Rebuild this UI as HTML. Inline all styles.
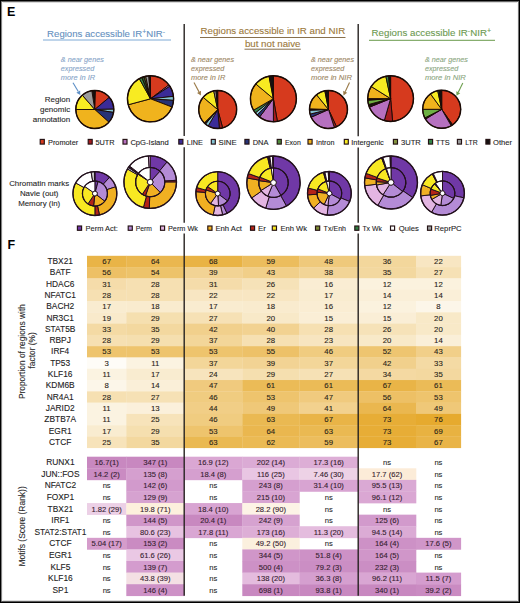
<!DOCTYPE html>
<html><head><meta charset="utf-8"><title>Figure</title>
<style>html,body{margin:0;padding:0;background:#fff;width:520px;height:603px;overflow:hidden;font-family:"Liberation Sans",sans-serif;}svg{display:block;}</style>
</head><body>
<svg width="520" height="603" viewBox="0 0 520 603" font-family="Liberation Sans, sans-serif">
<rect x="0" y="0" width="520" height="603" fill="#fff"/>
<text x="7.00" y="16.00" font-size="12.5" fill="#000" font-weight="bold">E</text>
<text x="7.60" y="248.80" font-size="12.5" fill="#000" font-weight="bold">F</text>
<text x="47.10" y="36.70" font-size="9" fill="#6590c0" textLength="118.00" lengthAdjust="spacingAndGlyphs" stroke="#6590c0" stroke-width="0.1">Regions accessible IR<tspan font-size="6.5" dy="-3.2">+</tspan><tspan dy="3.2">NIR</tspan><tspan font-size="6.5" dy="-3.2">-</tspan></text>
<line x1="43" y1="40.0" x2="171" y2="40.0" stroke="#7eaad6" stroke-width="1.0"/>
<text x="200.50" y="33.80" font-size="9" fill="#9c783a" textLength="144.70" lengthAdjust="spacingAndGlyphs" stroke="#9c783a" stroke-width="0.1">Regions accessible in IR and NIR</text>
<line x1="200" y1="37.5" x2="345.5" y2="37.5" stroke="#7a6038" stroke-width="0.9"/>
<text x="244.90" y="46.70" font-size="9" fill="#9c783a" textLength="55.60" lengthAdjust="spacingAndGlyphs" stroke="#9c783a" stroke-width="0.1">but not naive</text>
<line x1="244.5" y1="49.2" x2="300.8" y2="49.2" stroke="#7a6038" stroke-width="0.9"/>
<text x="371.60" y="36.40" font-size="9" fill="#6c9a50" textLength="119.50" lengthAdjust="spacingAndGlyphs" stroke="#6c9a50" stroke-width="0.1">Regions accessible IR<tspan font-size="6.5" dy="-3.2">-</tspan><tspan dy="3.2">NIR</tspan><tspan font-size="6.5" dy="-3.2">+</tspan></text>
<line x1="369" y1="40.3" x2="495" y2="40.3" stroke="#6a9a4c" stroke-width="1.0"/>
<text x="60.80" y="62.30" font-size="8.1" fill="#86a4c8" font-style="italic" textLength="43.00" lengthAdjust="spacingAndGlyphs" stroke="#86a4c8" stroke-width="0.1">&amp; near genes</text>
<text x="60.80" y="71.10" font-size="8.1" fill="#86a4c8" font-style="italic" textLength="33.40" lengthAdjust="spacingAndGlyphs" stroke="#86a4c8" stroke-width="0.1">expressed</text>
<text x="60.80" y="79.90" font-size="8.1" fill="#86a4c8" font-style="italic" textLength="34.30" lengthAdjust="spacingAndGlyphs" stroke="#86a4c8" stroke-width="0.1">more in IR</text>
<text x="191.00" y="62.30" font-size="8.1" fill="#9c8662" font-style="italic" textLength="43.00" lengthAdjust="spacingAndGlyphs" stroke="#9c8662" stroke-width="0.1">&amp; near genes</text>
<text x="191.00" y="71.10" font-size="8.1" fill="#9c8662" font-style="italic" textLength="33.40" lengthAdjust="spacingAndGlyphs" stroke="#9c8662" stroke-width="0.1">expressed</text>
<text x="191.00" y="79.90" font-size="8.1" fill="#9c8662" font-style="italic" textLength="34.30" lengthAdjust="spacingAndGlyphs" stroke="#9c8662" stroke-width="0.1">more in IR</text>
<text x="311.00" y="62.30" font-size="8.1" fill="#9c8662" font-style="italic" textLength="43.00" lengthAdjust="spacingAndGlyphs" stroke="#9c8662" stroke-width="0.1">&amp; near genes</text>
<text x="311.00" y="71.10" font-size="8.1" fill="#9c8662" font-style="italic" textLength="33.40" lengthAdjust="spacingAndGlyphs" stroke="#9c8662" stroke-width="0.1">expressed</text>
<text x="311.00" y="79.90" font-size="8.1" fill="#9c8662" font-style="italic" textLength="41.00" lengthAdjust="spacingAndGlyphs" stroke="#9c8662" stroke-width="0.1">more in NIR</text>
<text x="424.90" y="62.30" font-size="8.1" fill="#8aa67e" font-style="italic" textLength="43.00" lengthAdjust="spacingAndGlyphs" stroke="#8aa67e" stroke-width="0.1">&amp; near genes</text>
<text x="424.90" y="71.10" font-size="8.1" fill="#8aa67e" font-style="italic" textLength="33.40" lengthAdjust="spacingAndGlyphs" stroke="#8aa67e" stroke-width="0.1">expressed</text>
<text x="424.90" y="79.90" font-size="8.1" fill="#8aa67e" font-style="italic" textLength="41.00" lengthAdjust="spacingAndGlyphs" stroke="#8aa67e" stroke-width="0.1">more in NIR</text>
<line x1="73.00" y1="82.70" x2="78.26" y2="91.56" stroke="#5d8fc6" stroke-width="1.1"/><path d="M80.30,95.00 L76.37,92.68 L80.15,90.44 Z" fill="#5d8fc6"/>
<line x1="194.00" y1="82.60" x2="199.00" y2="91.88" stroke="#9a7a48" stroke-width="1.1"/><path d="M200.90,95.40 L197.07,92.92 L200.94,90.84 Z" fill="#9a7a48"/>
<line x1="349.50" y1="82.60" x2="345.20" y2="91.78" stroke="#9a7a48" stroke-width="1.1"/><path d="M343.50,95.40 L343.21,90.84 L347.19,92.71 Z" fill="#9a7a48"/>
<line x1="462.80" y1="83.10" x2="458.28" y2="92.22" stroke="#6fa050" stroke-width="1.1"/><path d="M456.50,95.80 L456.31,91.24 L460.25,93.19 Z" fill="#6fa050"/>
<text x="70.20" y="102.20" font-size="8.0" fill="#262626" text-anchor="end" stroke="#262626" stroke-width="0.1">Region</text>
<text x="70.20" y="112.00" font-size="8.0" fill="#262626" text-anchor="end" stroke="#262626" stroke-width="0.1">genomic</text>
<text x="70.20" y="121.80" font-size="8.0" fill="#262626" text-anchor="end" stroke="#262626" stroke-width="0.1">annotation</text>
<text x="39.20" y="185.90" font-size="7.9" fill="#262626" text-anchor="middle" stroke="#262626" stroke-width="0.1">Chromatin marks</text>
<text x="39.20" y="195.90" font-size="7.9" fill="#262626" text-anchor="middle" stroke="#262626" stroke-width="0.1">Navie (out)</text>
<text x="39.20" y="205.90" font-size="7.9" fill="#262626" text-anchor="middle" stroke="#262626" stroke-width="0.1">Memory (in)</text>
<path d="M94.80,109.50 L91.83,90.73 A19.00,19.00 0 0 1 95.46,90.51 Z" fill="#151010" stroke="#1a0a05" stroke-width="0.95" stroke-linejoin="round"/>
<path d="M94.80,109.50 L95.46,90.51 A19.00,19.00 0 0 1 109.35,97.29 Z" fill="#d63a1e" stroke="#1a0a05" stroke-width="0.95" stroke-linejoin="round"/>
<path d="M94.80,109.50 L109.35,97.29 A19.00,19.00 0 0 1 113.80,109.17 Z" fill="#3b2b97" stroke="#1a0a05" stroke-width="0.95" stroke-linejoin="round"/>
<path d="M94.80,109.50 L113.80,109.17 A19.00,19.00 0 0 1 113.57,112.47 Z" fill="#84c3d3" stroke="#1a0a05" stroke-width="0.95" stroke-linejoin="round"/>
<path d="M94.80,109.50 L113.57,112.47 A19.00,19.00 0 0 1 108.92,122.21 Z" fill="#263376" stroke="#1a0a05" stroke-width="0.95" stroke-linejoin="round"/>
<path d="M94.80,109.50 L108.92,122.21 A19.00,19.00 0 0 1 75.80,109.50 Z" fill="#f0b31d" stroke="#1a0a05" stroke-width="0.95" stroke-linejoin="round"/>
<path d="M94.80,109.50 L75.80,109.50 A19.00,19.00 0 0 1 82.33,95.16 Z" fill="#f8eb22" stroke="#1a0a05" stroke-width="0.95" stroke-linejoin="round"/>
<path d="M94.80,109.50 L82.33,95.16 A19.00,19.00 0 0 1 91.83,90.73 Z" fill="#9b9b9b" stroke="#1a0a05" stroke-width="0.95" stroke-linejoin="round"/>
<circle cx="94.8" cy="109.5" r="19.0" fill="none" stroke="#1a0a05" stroke-width="1.4"/>
<path d="M150.50,98.80 L150.50,75.70 A23.10,23.10 0 0 1 168.95,84.90 Z" fill="#d63a1e" stroke="#1a0a05" stroke-width="0.95" stroke-linejoin="round"/>
<path d="M150.50,98.80 L168.95,84.90 A23.10,23.10 0 0 1 169.87,86.22 Z" fill="#b670bf" stroke="#1a0a05" stroke-width="0.95" stroke-linejoin="round"/>
<path d="M150.50,98.80 L169.87,86.22 A23.10,23.10 0 0 1 173.47,96.39 Z" fill="#3b2b97" stroke="#1a0a05" stroke-width="0.95" stroke-linejoin="round"/>
<path d="M150.50,98.80 L173.47,96.39 A23.10,23.10 0 0 1 173.54,100.41 Z" fill="#84c3d3" stroke="#1a0a05" stroke-width="0.95" stroke-linejoin="round"/>
<path d="M150.50,98.80 L173.54,100.41 A23.10,23.10 0 0 1 172.07,107.08 Z" fill="#263376" stroke="#1a0a05" stroke-width="0.95" stroke-linejoin="round"/>
<path d="M150.50,98.80 L172.07,107.08 A23.10,23.10 0 0 1 128.19,104.78 Z" fill="#f0b31d" stroke="#1a0a05" stroke-width="0.95" stroke-linejoin="round"/>
<path d="M150.50,98.80 L128.19,104.78 A23.10,23.10 0 0 1 139.30,78.60 Z" fill="#f8eb22" stroke="#1a0a05" stroke-width="0.95" stroke-linejoin="round"/>
<path d="M150.50,98.80 L139.30,78.60 A23.10,23.10 0 0 1 141.85,77.38 Z" fill="#348648" stroke="#1a0a05" stroke-width="0.95" stroke-linejoin="round"/>
<path d="M150.50,98.80 L141.85,77.38 A23.10,23.10 0 0 1 144.13,76.59 Z" fill="#2a5a30" stroke="#1a0a05" stroke-width="0.95" stroke-linejoin="round"/>
<path d="M150.50,98.80 L144.13,76.59 A23.10,23.10 0 0 1 145.70,76.20 Z" fill="#84943f" stroke="#1a0a05" stroke-width="0.95" stroke-linejoin="round"/>
<path d="M150.50,98.80 L145.70,76.20 A23.10,23.10 0 0 1 148.89,75.76 Z" fill="#9b9b9b" stroke="#1a0a05" stroke-width="0.95" stroke-linejoin="round"/>
<path d="M150.50,98.80 L148.89,75.76 A23.10,23.10 0 0 1 150.50,75.70 Z" fill="#151010" stroke="#1a0a05" stroke-width="0.95" stroke-linejoin="round"/>
<circle cx="150.5" cy="98.8" r="23.1" fill="none" stroke="#1a0a05" stroke-width="1.4"/>
<path d="M217.70,109.50 L217.70,90.50 A19.00,19.00 0 0 1 222.62,127.85 Z" fill="#d63a1e" stroke="#1a0a05" stroke-width="0.95" stroke-linejoin="round"/>
<path d="M217.70,109.50 L222.62,127.85 A19.00,19.00 0 0 1 219.36,128.43 Z" fill="#a51c1e" stroke="#1a0a05" stroke-width="0.95" stroke-linejoin="round"/>
<path d="M217.70,109.50 L219.36,128.43 A19.00,19.00 0 0 1 208.20,125.95 Z" fill="#3b2b97" stroke="#1a0a05" stroke-width="0.95" stroke-linejoin="round"/>
<path d="M217.70,109.50 L208.20,125.95 A19.00,19.00 0 0 1 205.49,124.05 Z" fill="#84c3d3" stroke="#1a0a05" stroke-width="0.95" stroke-linejoin="round"/>
<path d="M217.70,109.50 L205.49,124.05 A19.00,19.00 0 0 1 204.26,122.94 Z" fill="#151010" stroke="#1a0a05" stroke-width="0.95" stroke-linejoin="round"/>
<path d="M217.70,109.50 L204.26,122.94 A19.00,19.00 0 0 1 203.15,97.29 Z" fill="#f0b31d" stroke="#1a0a05" stroke-width="0.95" stroke-linejoin="round"/>
<path d="M217.70,109.50 L203.15,97.29 A19.00,19.00 0 0 1 213.75,90.92 Z" fill="#f8eb22" stroke="#1a0a05" stroke-width="0.95" stroke-linejoin="round"/>
<path d="M217.70,109.50 L213.75,90.92 A19.00,19.00 0 0 1 216.04,90.57 Z" fill="#9b9b9b" stroke="#1a0a05" stroke-width="0.95" stroke-linejoin="round"/>
<path d="M217.70,109.50 L216.04,90.57 A19.00,19.00 0 0 1 217.70,90.50 Z" fill="#151010" stroke="#1a0a05" stroke-width="0.95" stroke-linejoin="round"/>
<circle cx="217.7" cy="109.5" r="19.0" fill="none" stroke="#1a0a05" stroke-width="1.4"/>
<path d="M273.40,98.70 L273.40,75.70 A23.00,23.00 0 0 1 277.39,121.35 Z" fill="#d63a1e" stroke="#1a0a05" stroke-width="0.95" stroke-linejoin="round"/>
<path d="M273.40,98.70 L277.39,121.35 A23.00,23.00 0 0 1 273.40,121.70 Z" fill="#a51c1e" stroke="#1a0a05" stroke-width="0.95" stroke-linejoin="round"/>
<path d="M273.40,98.70 L273.40,121.70 A23.00,23.00 0 0 1 259.56,117.07 Z" fill="#b670bf" stroke="#1a0a05" stroke-width="0.95" stroke-linejoin="round"/>
<path d="M273.40,98.70 L259.56,117.07 A23.00,23.00 0 0 1 257.14,114.96 Z" fill="#263376" stroke="#1a0a05" stroke-width="0.95" stroke-linejoin="round"/>
<path d="M273.40,98.70 L257.14,114.96 A23.00,23.00 0 0 1 255.28,112.86 Z" fill="#84c3d3" stroke="#1a0a05" stroke-width="0.95" stroke-linejoin="round"/>
<path d="M273.40,98.70 L255.28,112.86 A23.00,23.00 0 0 1 253.48,110.20 Z" fill="#348648" stroke="#1a0a05" stroke-width="0.95" stroke-linejoin="round"/>
<path d="M273.40,98.70 L253.48,110.20 A23.00,23.00 0 0 1 255.78,83.92 Z" fill="#f0b31d" stroke="#1a0a05" stroke-width="0.95" stroke-linejoin="round"/>
<path d="M273.40,98.70 L255.78,83.92 A23.00,23.00 0 0 1 269.01,76.12 Z" fill="#f8eb22" stroke="#1a0a05" stroke-width="0.95" stroke-linejoin="round"/>
<path d="M273.40,98.70 L269.01,76.12 A23.00,23.00 0 0 1 273.40,75.70 Z" fill="#151010" stroke="#1a0a05" stroke-width="0.95" stroke-linejoin="round"/>
<circle cx="273.4" cy="98.7" r="23.0" fill="none" stroke="#1a0a05" stroke-width="1.4"/>
<path d="M328.50,109.50 L328.50,90.50 A19.00,19.00 0 0 1 336.53,126.72 Z" fill="#d63a1e" stroke="#1a0a05" stroke-width="0.95" stroke-linejoin="round"/>
<path d="M328.50,109.50 L336.53,126.72 A19.00,19.00 0 0 1 334.37,127.57 Z" fill="#a51c1e" stroke="#1a0a05" stroke-width="0.95" stroke-linejoin="round"/>
<path d="M328.50,109.50 L334.37,127.57 A19.00,19.00 0 0 1 311.14,117.23 Z" fill="#b670bf" stroke="#1a0a05" stroke-width="0.95" stroke-linejoin="round"/>
<path d="M328.50,109.50 L311.14,117.23 A19.00,19.00 0 0 1 310.06,114.10 Z" fill="#263376" stroke="#1a0a05" stroke-width="0.95" stroke-linejoin="round"/>
<path d="M328.50,109.50 L310.06,114.10 A19.00,19.00 0 0 1 309.51,110.16 Z" fill="#84c3d3" stroke="#1a0a05" stroke-width="0.95" stroke-linejoin="round"/>
<path d="M328.50,109.50 L309.51,110.16 A19.00,19.00 0 0 1 309.51,108.84 Z" fill="#151010" stroke="#1a0a05" stroke-width="0.95" stroke-linejoin="round"/>
<path d="M328.50,109.50 L309.51,108.84 A19.00,19.00 0 0 1 316.54,94.73 Z" fill="#f0b31d" stroke="#1a0a05" stroke-width="0.95" stroke-linejoin="round"/>
<path d="M328.50,109.50 L316.54,94.73 A19.00,19.00 0 0 1 324.87,90.85 Z" fill="#f8eb22" stroke="#1a0a05" stroke-width="0.95" stroke-linejoin="round"/>
<path d="M328.50,109.50 L324.87,90.85 A19.00,19.00 0 0 1 328.50,90.50 Z" fill="#151010" stroke="#1a0a05" stroke-width="0.95" stroke-linejoin="round"/>
<circle cx="328.5" cy="109.5" r="19.0" fill="none" stroke="#1a0a05" stroke-width="1.4"/>
<path d="M390.60,98.60 L390.60,75.70 A22.90,22.90 0 0 1 392.60,121.41 Z" fill="#d63a1e" stroke="#1a0a05" stroke-width="0.95" stroke-linejoin="round"/>
<path d="M390.60,98.60 L392.60,121.41 A22.90,22.90 0 0 1 384.29,120.61 Z" fill="#a51c1e" stroke="#1a0a05" stroke-width="0.95" stroke-linejoin="round"/>
<path d="M390.60,98.60 L384.29,120.61 A22.90,22.90 0 0 1 369.37,107.18 Z" fill="#b670bf" stroke="#1a0a05" stroke-width="0.95" stroke-linejoin="round"/>
<path d="M390.60,98.60 L369.37,107.18 A22.90,22.90 0 0 1 368.48,104.53 Z" fill="#151010" stroke="#1a0a05" stroke-width="0.95" stroke-linejoin="round"/>
<path d="M390.60,98.60 L368.48,104.53 A22.90,22.90 0 0 1 367.76,100.20 Z" fill="#6db143" stroke="#1a0a05" stroke-width="0.95" stroke-linejoin="round"/>
<path d="M390.60,98.60 L367.76,100.20 A22.90,22.90 0 0 1 367.70,98.60 Z" fill="#151010" stroke="#1a0a05" stroke-width="0.95" stroke-linejoin="round"/>
<path d="M390.60,98.60 L367.70,98.60 A22.90,22.90 0 0 1 371.18,86.46 Z" fill="#f0b31d" stroke="#1a0a05" stroke-width="0.95" stroke-linejoin="round"/>
<path d="M390.60,98.60 L371.18,86.46 A22.90,22.90 0 0 1 385.84,76.20 Z" fill="#f8eb22" stroke="#1a0a05" stroke-width="0.95" stroke-linejoin="round"/>
<path d="M390.60,98.60 L385.84,76.20 A22.90,22.90 0 0 1 388.60,75.79 Z" fill="#348648" stroke="#1a0a05" stroke-width="0.95" stroke-linejoin="round"/>
<path d="M390.60,98.60 L388.60,75.79 A22.90,22.90 0 0 1 390.60,75.70 Z" fill="#151010" stroke="#1a0a05" stroke-width="0.95" stroke-linejoin="round"/>
<circle cx="390.6" cy="98.6" r="22.9" fill="none" stroke="#1a0a05" stroke-width="1.4"/>
<path d="M441.70,109.30 L441.70,90.30 A19.00,19.00 0 0 1 452.60,124.86 Z" fill="#d63a1e" stroke="#1a0a05" stroke-width="0.95" stroke-linejoin="round"/>
<path d="M441.70,109.30 L452.60,124.86 A19.00,19.00 0 0 1 451.20,125.75 Z" fill="#151010" stroke="#1a0a05" stroke-width="0.95" stroke-linejoin="round"/>
<path d="M441.70,109.30 L451.20,125.75 A19.00,19.00 0 0 1 425.41,119.09 Z" fill="#b670bf" stroke="#1a0a05" stroke-width="0.95" stroke-linejoin="round"/>
<path d="M441.70,109.30 L425.41,119.09 A19.00,19.00 0 0 1 424.77,117.93 Z" fill="#151010" stroke="#1a0a05" stroke-width="0.95" stroke-linejoin="round"/>
<path d="M441.70,109.30 L424.77,117.93 A19.00,19.00 0 0 1 422.70,109.30 Z" fill="#6db143" stroke="#1a0a05" stroke-width="0.95" stroke-linejoin="round"/>
<path d="M441.70,109.30 L422.70,109.30 A19.00,19.00 0 0 1 430.53,93.93 Z" fill="#f0b31d" stroke="#1a0a05" stroke-width="0.95" stroke-linejoin="round"/>
<path d="M441.70,109.30 L430.53,93.93 A19.00,19.00 0 0 1 437.75,90.72 Z" fill="#f8eb22" stroke="#1a0a05" stroke-width="0.95" stroke-linejoin="round"/>
<path d="M441.70,109.30 L437.75,90.72 A19.00,19.00 0 0 1 439.06,90.48 Z" fill="#348648" stroke="#1a0a05" stroke-width="0.95" stroke-linejoin="round"/>
<path d="M441.70,109.30 L439.06,90.48 A19.00,19.00 0 0 1 441.70,90.30 Z" fill="#151010" stroke="#1a0a05" stroke-width="0.95" stroke-linejoin="round"/>
<circle cx="441.7" cy="109.3" r="19.0" fill="none" stroke="#1a0a05" stroke-width="1.4"/>
<path d="M94.90,181.05 L94.90,171.60 A21.95,21.95 0 0 1 109.59,177.24 L103.26,184.26 A12.50,12.50 0 0 0 94.90,181.05 Z" fill="#7038a6" stroke="#22101c" stroke-width="1.0" stroke-linejoin="round"/>
<path d="M103.26,184.26 L109.59,177.24 A21.95,21.95 0 0 1 115.78,186.77 L106.79,189.69 A12.50,12.50 0 0 0 103.26,184.26 Z" fill="#b48bd6" stroke="#22101c" stroke-width="1.0" stroke-linejoin="round"/>
<path d="M106.79,189.69 L115.78,186.77 A21.95,21.95 0 0 1 99.46,215.02 L97.50,205.78 A12.50,12.50 0 0 0 106.79,189.69 Z" fill="#f0b022" stroke="#22101c" stroke-width="1.0" stroke-linejoin="round"/>
<path d="M97.50,205.78 L99.46,215.02 A21.95,21.95 0 0 1 94.90,215.50 L94.90,206.05 A12.50,12.50 0 0 0 97.50,205.78 Z" fill="#b42418" stroke="#22101c" stroke-width="1.0" stroke-linejoin="round"/>
<path d="M94.90,206.05 L94.90,215.50 A21.95,21.95 0 0 1 75.70,182.91 L83.97,187.49 A12.50,12.50 0 0 0 94.90,206.05 Z" fill="#f8e822" stroke="#22101c" stroke-width="1.0" stroke-linejoin="round"/>
<path d="M83.97,187.49 L75.70,182.91 A21.95,21.95 0 0 1 91.09,171.93 L92.73,181.24 A12.50,12.50 0 0 0 83.97,187.49 Z" fill="#ffffff" stroke="#22101c" stroke-width="1.0" stroke-linejoin="round"/>
<path d="M92.73,181.24 L91.09,171.93 A21.95,21.95 0 0 1 94.52,171.60 L94.68,181.05 A12.50,12.50 0 0 0 92.73,181.24 Z" fill="#c4c4c4" stroke="#22101c" stroke-width="1.0" stroke-linejoin="round"/>
<path d="M94.68,181.05 L94.52,171.60 A21.95,21.95 0 0 1 94.90,171.60 L94.90,181.05 A12.50,12.50 0 0 0 94.68,181.05 Z" fill="#7038a6" stroke="#22101c" stroke-width="1.0" stroke-linejoin="round"/>
<path d="M94.90,191.15 L94.90,181.05 A12.50,12.50 0 0 1 98.14,181.48 L95.52,191.23 A2.40,2.40 0 0 0 94.90,191.15 Z" fill="#7038a6" stroke="#22101c" stroke-width="1.0" stroke-linejoin="round"/>
<path d="M95.52,191.23 L98.14,181.48 A12.50,12.50 0 0 1 104.75,201.25 L96.79,195.03 A2.40,2.40 0 0 0 95.52,191.23 Z" fill="#b48bd6" stroke="#22101c" stroke-width="1.0" stroke-linejoin="round"/>
<path d="M96.79,195.03 L104.75,201.25 A12.50,12.50 0 0 1 93.59,205.98 L94.65,195.94 A2.40,2.40 0 0 0 96.79,195.03 Z" fill="#f0b022" stroke="#22101c" stroke-width="1.0" stroke-linejoin="round"/>
<path d="M94.65,195.94 L93.59,205.98 A12.50,12.50 0 0 1 87.91,203.91 L93.56,195.54 A2.40,2.40 0 0 0 94.65,195.94 Z" fill="#b42418" stroke="#22101c" stroke-width="1.0" stroke-linejoin="round"/>
<path d="M93.56,195.54 L87.91,203.91 A12.50,12.50 0 0 1 84.66,186.38 L92.93,192.17 A2.40,2.40 0 0 0 93.56,195.54 Z" fill="#f8e822" stroke="#22101c" stroke-width="1.0" stroke-linejoin="round"/>
<path d="M92.93,192.17 L84.66,186.38 A12.50,12.50 0 0 1 94.90,181.05 L94.90,191.15 A2.40,2.40 0 0 0 92.93,192.17 Z" fill="#ffffff" stroke="#22101c" stroke-width="1.0" stroke-linejoin="round"/>
<circle cx="94.9" cy="193.55" r="21.95" fill="none" stroke="#22101c" stroke-width="1.35"/>
<circle cx="94.9" cy="193.55" r="12.5" fill="none" stroke="#22101c" stroke-width="1.15"/>
<circle cx="94.9" cy="193.55" r="2.4" fill="#fff" stroke="#22101c" stroke-width="0.9"/>
<path d="M150.20,167.50 L150.20,155.80 A26.30,26.30 0 0 1 167.11,161.95 L159.58,170.92 A14.60,14.60 0 0 0 150.20,167.50 Z" fill="#7038a6" stroke="#22101c" stroke-width="1.0" stroke-linejoin="round"/>
<path d="M159.58,170.92 L167.11,161.95 A26.30,26.30 0 0 1 176.44,180.27 L164.76,181.08 A14.60,14.60 0 0 0 159.58,170.92 Z" fill="#b48bd6" stroke="#22101c" stroke-width="1.0" stroke-linejoin="round"/>
<path d="M164.76,181.08 L176.44,180.27 A26.30,26.30 0 0 1 176.50,182.10 L164.80,182.10 A14.60,14.60 0 0 0 164.76,181.08 Z" fill="#b42418" stroke="#22101c" stroke-width="1.0" stroke-linejoin="round"/>
<path d="M164.80,182.10 L176.50,182.10 A26.30,26.30 0 0 1 149.28,208.38 L149.69,196.69 A14.60,14.60 0 0 0 164.80,182.10 Z" fill="#f0b022" stroke="#22101c" stroke-width="1.0" stroke-linejoin="round"/>
<path d="M149.69,196.69 L149.28,208.38 A26.30,26.30 0 0 1 143.39,207.50 L146.42,196.20 A14.60,14.60 0 0 0 149.69,196.69 Z" fill="#b42418" stroke="#22101c" stroke-width="1.0" stroke-linejoin="round"/>
<path d="M146.42,196.20 L143.39,207.50 A26.30,26.30 0 0 1 127.42,168.95 L137.56,174.80 A14.60,14.60 0 0 0 146.42,196.20 Z" fill="#f8e822" stroke="#22101c" stroke-width="1.0" stroke-linejoin="round"/>
<path d="M137.56,174.80 L127.42,168.95 A26.30,26.30 0 0 1 128.40,167.39 L138.10,173.94 A14.60,14.60 0 0 0 137.56,174.80 Z" fill="#c9cfe0" stroke="#22101c" stroke-width="1.0" stroke-linejoin="round"/>
<path d="M138.10,173.94 L128.40,167.39 A26.30,26.30 0 0 1 129.48,165.91 L138.70,173.11 A14.60,14.60 0 0 0 138.10,173.94 Z" fill="#2a1420" stroke="#22101c" stroke-width="1.0" stroke-linejoin="round"/>
<path d="M138.70,173.11 L129.48,165.91 A26.30,26.30 0 0 1 148.37,155.86 L149.18,167.54 A14.60,14.60 0 0 0 138.70,173.11 Z" fill="#ffffff" stroke="#22101c" stroke-width="1.0" stroke-linejoin="round"/>
<path d="M149.18,167.54 L148.37,155.86 A26.30,26.30 0 0 1 150.20,155.80 L150.20,167.50 A14.60,14.60 0 0 0 149.18,167.54 Z" fill="#e3b5e2" stroke="#22101c" stroke-width="1.0" stroke-linejoin="round"/>
<path d="M150.20,179.30 L150.20,167.50 A14.60,14.60 0 0 1 159.97,171.25 L152.07,180.02 A2.80,2.80 0 0 0 150.20,179.30 Z" fill="#7038a6" stroke="#22101c" stroke-width="1.0" stroke-linejoin="round"/>
<path d="M152.07,180.02 L159.97,171.25 A14.60,14.60 0 0 1 160.34,192.60 L152.15,184.11 A2.80,2.80 0 0 0 152.07,180.02 Z" fill="#b48bd6" stroke="#22101c" stroke-width="1.0" stroke-linejoin="round"/>
<path d="M152.15,184.11 L160.34,192.60 A14.60,14.60 0 0 1 145.45,195.90 L149.29,184.75 A2.80,2.80 0 0 0 152.15,184.11 Z" fill="#f0b022" stroke="#22101c" stroke-width="1.0" stroke-linejoin="round"/>
<path d="M149.29,184.75 L145.45,195.90 A14.60,14.60 0 0 1 142.25,194.34 L148.68,184.45 A2.80,2.80 0 0 0 149.29,184.75 Z" fill="#b42418" stroke="#22101c" stroke-width="1.0" stroke-linejoin="round"/>
<path d="M148.68,184.45 L142.25,194.34 A14.60,14.60 0 0 1 137.96,174.15 L147.85,180.58 A2.80,2.80 0 0 0 148.68,184.45 Z" fill="#f8e822" stroke="#22101c" stroke-width="1.0" stroke-linejoin="round"/>
<path d="M147.85,180.58 L137.96,174.15 A14.60,14.60 0 0 1 138.54,173.31 L147.96,180.41 A2.80,2.80 0 0 0 147.85,180.58 Z" fill="#2a1420" stroke="#22101c" stroke-width="1.0" stroke-linejoin="round"/>
<path d="M147.96,180.41 L138.54,173.31 A14.60,14.60 0 0 1 150.20,167.50 L150.20,179.30 A2.80,2.80 0 0 0 147.96,180.41 Z" fill="#ffffff" stroke="#22101c" stroke-width="1.0" stroke-linejoin="round"/>
<circle cx="150.2" cy="182.1" r="26.3" fill="none" stroke="#22101c" stroke-width="1.35"/>
<circle cx="150.2" cy="182.1" r="14.6" fill="none" stroke="#22101c" stroke-width="1.15"/>
<circle cx="150.2" cy="182.1" r="2.8" fill="#fff" stroke="#22101c" stroke-width="0.9"/>
<path d="M217.70,181.25 L217.70,171.65 A21.90,21.90 0 0 1 226.96,213.40 L222.90,204.70 A12.30,12.30 0 0 0 217.70,181.25 Z" fill="#7038a6" stroke="#22101c" stroke-width="1.0" stroke-linejoin="round"/>
<path d="M222.90,204.70 L226.96,213.40 A21.90,21.90 0 0 1 222.63,214.89 L220.47,205.53 A12.30,12.30 0 0 0 222.90,204.70 Z" fill="#b48bd6" stroke="#22101c" stroke-width="1.0" stroke-linejoin="round"/>
<path d="M220.47,205.53 L222.63,214.89 A21.90,21.90 0 0 1 213.15,214.97 L215.14,205.58 A12.30,12.30 0 0 0 220.47,205.53 Z" fill="#e3b5e2" stroke="#22101c" stroke-width="1.0" stroke-linejoin="round"/>
<path d="M215.14,205.58 L213.15,214.97 A21.90,21.90 0 0 1 195.88,191.64 L205.45,192.48 A12.30,12.30 0 0 0 215.14,205.58 Z" fill="#f0b022" stroke="#22101c" stroke-width="1.0" stroke-linejoin="round"/>
<path d="M205.45,192.48 L195.88,191.64 A21.90,21.90 0 0 1 196.65,187.51 L205.88,190.16 A12.30,12.30 0 0 0 205.45,192.48 Z" fill="#b42418" stroke="#22101c" stroke-width="1.0" stroke-linejoin="round"/>
<path d="M205.88,190.16 L196.65,187.51 A21.90,21.90 0 0 1 217.70,171.65 L217.70,181.25 A12.30,12.30 0 0 0 205.88,190.16 Z" fill="#f8e822" stroke="#22101c" stroke-width="1.0" stroke-linejoin="round"/>
<path d="M217.70,191.15 L217.70,181.25 A12.30,12.30 0 0 1 227.52,200.95 L219.62,194.99 A2.40,2.40 0 0 0 217.70,191.15 Z" fill="#7038a6" stroke="#22101c" stroke-width="1.0" stroke-linejoin="round"/>
<path d="M219.62,194.99 L227.52,200.95 A12.30,12.30 0 0 1 218.56,205.82 L217.87,195.94 A2.40,2.40 0 0 0 219.62,194.99 Z" fill="#b48bd6" stroke="#22101c" stroke-width="1.0" stroke-linejoin="round"/>
<path d="M217.87,195.94 L218.56,205.82 A12.30,12.30 0 0 1 210.47,203.50 L216.29,195.49 A2.40,2.40 0 0 0 217.87,195.94 Z" fill="#e3b5e2" stroke="#22101c" stroke-width="1.0" stroke-linejoin="round"/>
<path d="M216.29,195.49 L210.47,203.50 A12.30,12.30 0 0 1 205.94,189.95 L215.40,192.85 A2.40,2.40 0 0 0 216.29,195.49 Z" fill="#f0b022" stroke="#22101c" stroke-width="1.0" stroke-linejoin="round"/>
<path d="M215.40,192.85 L205.94,189.95 A12.30,12.30 0 0 1 207.62,186.50 L215.73,192.17 A2.40,2.40 0 0 0 215.40,192.85 Z" fill="#b42418" stroke="#22101c" stroke-width="1.0" stroke-linejoin="round"/>
<path d="M215.73,192.17 L207.62,186.50 A12.30,12.30 0 0 1 217.70,181.25 L217.70,191.15 A2.40,2.40 0 0 0 215.73,192.17 Z" fill="#f8e822" stroke="#22101c" stroke-width="1.0" stroke-linejoin="round"/>
<circle cx="217.7" cy="193.55" r="21.9" fill="none" stroke="#22101c" stroke-width="1.35"/>
<circle cx="217.7" cy="193.55" r="12.3" fill="none" stroke="#22101c" stroke-width="1.15"/>
<circle cx="217.7" cy="193.55" r="2.4" fill="#fff" stroke="#22101c" stroke-width="0.9"/>
<path d="M273.50,167.95 L273.50,155.95 A26.70,26.70 0 0 1 286.44,206.00 L280.63,195.51 A14.70,14.70 0 0 0 273.50,167.95 Z" fill="#7038a6" stroke="#22101c" stroke-width="1.0" stroke-linejoin="round"/>
<path d="M280.63,195.51 L286.44,206.00 A26.70,26.70 0 0 1 265.69,208.18 L269.20,196.71 A14.70,14.70 0 0 0 280.63,195.51 Z" fill="#b48bd6" stroke="#22101c" stroke-width="1.0" stroke-linejoin="round"/>
<path d="M269.20,196.71 L265.69,208.18 A26.70,26.70 0 0 1 251.63,197.96 L261.46,191.08 A14.70,14.70 0 0 0 269.20,196.71 Z" fill="#e3b5e2" stroke="#22101c" stroke-width="1.0" stroke-linejoin="round"/>
<path d="M261.46,191.08 L251.63,197.96 A26.70,26.70 0 0 1 247.21,178.01 L259.02,180.10 A14.70,14.70 0 0 0 261.46,191.08 Z" fill="#f0b022" stroke="#22101c" stroke-width="1.0" stroke-linejoin="round"/>
<path d="M259.02,180.10 L247.21,178.01 A26.70,26.70 0 0 1 248.41,173.52 L259.69,177.62 A14.70,14.70 0 0 0 259.02,180.10 Z" fill="#b42418" stroke="#22101c" stroke-width="1.0" stroke-linejoin="round"/>
<path d="M259.69,177.62 L248.41,173.52 A26.70,26.70 0 0 1 267.49,156.63 L270.19,168.33 A14.70,14.70 0 0 0 259.69,177.62 Z" fill="#f8e822" stroke="#22101c" stroke-width="1.0" stroke-linejoin="round"/>
<path d="M270.19,168.33 L267.49,156.63 A26.70,26.70 0 0 1 269.78,156.21 L271.45,168.09 A14.70,14.70 0 0 0 270.19,168.33 Z" fill="#2a1420" stroke="#22101c" stroke-width="1.0" stroke-linejoin="round"/>
<path d="M271.45,168.09 L269.78,156.21 A26.70,26.70 0 0 1 272.57,155.97 L272.99,167.96 A14.70,14.70 0 0 0 271.45,168.09 Z" fill="#ffffff" stroke="#22101c" stroke-width="1.0" stroke-linejoin="round"/>
<path d="M272.99,167.96 L272.57,155.97 A26.70,26.70 0 0 1 273.50,155.95 L273.50,167.95 A14.70,14.70 0 0 0 272.99,167.96 Z" fill="#2a1420" stroke="#22101c" stroke-width="1.0" stroke-linejoin="round"/>
<path d="M273.50,179.85 L273.50,167.95 A14.70,14.70 0 0 1 280.85,195.38 L274.90,185.07 A2.80,2.80 0 0 0 273.50,179.85 Z" fill="#7038a6" stroke="#22101c" stroke-width="1.0" stroke-linejoin="round"/>
<path d="M274.90,185.07 L280.85,195.38 A14.70,14.70 0 0 1 267.76,196.18 L272.41,185.23 A2.80,2.80 0 0 0 274.90,185.07 Z" fill="#b48bd6" stroke="#22101c" stroke-width="1.0" stroke-linejoin="round"/>
<path d="M272.41,185.23 L267.76,196.18 A14.70,14.70 0 0 1 261.03,190.44 L271.13,184.13 A2.80,2.80 0 0 0 272.41,185.23 Z" fill="#e3b5e2" stroke="#22101c" stroke-width="1.0" stroke-linejoin="round"/>
<path d="M271.13,184.13 L261.03,190.44 A14.70,14.70 0 0 1 258.94,180.60 L270.73,182.26 A2.80,2.80 0 0 0 271.13,184.13 Z" fill="#f0b022" stroke="#22101c" stroke-width="1.0" stroke-linejoin="round"/>
<path d="M270.73,182.26 L258.94,180.60 A14.70,14.70 0 0 1 259.87,177.14 L270.90,181.60 A2.80,2.80 0 0 0 270.73,182.26 Z" fill="#b42418" stroke="#22101c" stroke-width="1.0" stroke-linejoin="round"/>
<path d="M270.90,181.60 L259.87,177.14 A14.70,14.70 0 0 1 271.20,168.13 L273.06,179.88 A2.80,2.80 0 0 0 270.90,181.60 Z" fill="#f8e822" stroke="#22101c" stroke-width="1.0" stroke-linejoin="round"/>
<path d="M273.06,179.88 L271.20,168.13 A14.70,14.70 0 0 1 273.50,167.95 L273.50,179.85 A2.80,2.80 0 0 0 273.06,179.88 Z" fill="#ffffff" stroke="#22101c" stroke-width="1.0" stroke-linejoin="round"/>
<circle cx="273.5" cy="182.65" r="26.7" fill="none" stroke="#22101c" stroke-width="1.35"/>
<circle cx="273.5" cy="182.65" r="14.7" fill="none" stroke="#22101c" stroke-width="1.15"/>
<circle cx="273.5" cy="182.65" r="2.8" fill="#fff" stroke="#22101c" stroke-width="0.9"/>
<path d="M329.40,181.05 L329.40,171.45 A21.90,21.90 0 0 1 349.71,201.55 L340.80,197.96 A12.30,12.30 0 0 0 329.40,181.05 Z" fill="#7038a6" stroke="#22101c" stroke-width="1.0" stroke-linejoin="round"/>
<path d="M340.80,197.96 L349.71,201.55 A21.90,21.90 0 0 1 327.11,215.13 L328.11,205.58 A12.30,12.30 0 0 0 340.80,197.96 Z" fill="#b48bd6" stroke="#22101c" stroke-width="1.0" stroke-linejoin="round"/>
<path d="M328.11,205.58 L327.11,215.13 A21.90,21.90 0 0 1 313.38,208.29 L320.40,201.74 A12.30,12.30 0 0 0 328.11,205.58 Z" fill="#e3b5e2" stroke="#22101c" stroke-width="1.0" stroke-linejoin="round"/>
<path d="M320.40,201.74 L313.38,208.29 A21.90,21.90 0 0 1 307.55,194.88 L317.13,194.21 A12.30,12.30 0 0 0 320.40,201.74 Z" fill="#f0b022" stroke="#22101c" stroke-width="1.0" stroke-linejoin="round"/>
<path d="M317.13,194.21 L307.55,194.88 A21.90,21.90 0 0 1 308.15,188.05 L317.47,190.37 A12.30,12.30 0 0 0 317.13,194.21 Z" fill="#b42418" stroke="#22101c" stroke-width="1.0" stroke-linejoin="round"/>
<path d="M317.47,190.37 L308.15,188.05 A21.90,21.90 0 0 1 323.36,172.30 L326.01,181.53 A12.30,12.30 0 0 0 317.47,190.37 Z" fill="#f8e822" stroke="#22101c" stroke-width="1.0" stroke-linejoin="round"/>
<path d="M326.01,181.53 L323.36,172.30 A21.90,21.90 0 0 1 324.85,171.93 L326.84,181.32 A12.30,12.30 0 0 0 326.01,181.53 Z" fill="#2a1420" stroke="#22101c" stroke-width="1.0" stroke-linejoin="round"/>
<path d="M326.84,181.32 L324.85,171.93 A21.90,21.90 0 0 1 328.25,171.48 L328.76,181.07 A12.30,12.30 0 0 0 326.84,181.32 Z" fill="#ffffff" stroke="#22101c" stroke-width="1.0" stroke-linejoin="round"/>
<path d="M328.76,181.07 L328.25,171.48 A21.90,21.90 0 0 1 329.40,171.45 L329.40,181.05 A12.30,12.30 0 0 0 328.76,181.07 Z" fill="#2a1420" stroke="#22101c" stroke-width="1.0" stroke-linejoin="round"/>
<path d="M329.40,190.95 L329.40,181.05 A12.30,12.30 0 0 1 340.26,199.12 L331.52,194.48 A2.40,2.40 0 0 0 329.40,190.95 Z" fill="#7038a6" stroke="#22101c" stroke-width="1.0" stroke-linejoin="round"/>
<path d="M331.52,194.48 L340.26,199.12 A12.30,12.30 0 0 1 327.90,205.56 L329.11,195.73 A2.40,2.40 0 0 0 331.52,194.48 Z" fill="#b48bd6" stroke="#22101c" stroke-width="1.0" stroke-linejoin="round"/>
<path d="M329.11,195.73 L327.90,205.56 A12.30,12.30 0 0 1 324.20,204.50 L328.39,195.53 A2.40,2.40 0 0 0 329.11,195.73 Z" fill="#e3b5e2" stroke="#22101c" stroke-width="1.0" stroke-linejoin="round"/>
<path d="M328.39,195.53 L324.20,204.50 A12.30,12.30 0 0 1 317.15,192.28 L327.01,193.14 A2.40,2.40 0 0 0 328.39,195.53 Z" fill="#f0b022" stroke="#22101c" stroke-width="1.0" stroke-linejoin="round"/>
<path d="M327.01,193.14 L317.15,192.28 A12.30,12.30 0 0 1 317.92,188.94 L327.16,192.49 A2.40,2.40 0 0 0 327.01,193.14 Z" fill="#b42418" stroke="#22101c" stroke-width="1.0" stroke-linejoin="round"/>
<path d="M327.16,192.49 L317.92,188.94 A12.30,12.30 0 0 1 326.42,181.42 L328.82,191.02 A2.40,2.40 0 0 0 327.16,192.49 Z" fill="#f8e822" stroke="#22101c" stroke-width="1.0" stroke-linejoin="round"/>
<path d="M328.82,191.02 L326.42,181.42 A12.30,12.30 0 0 1 329.40,181.05 L329.40,190.95 A2.40,2.40 0 0 0 328.82,191.02 Z" fill="#ffffff" stroke="#22101c" stroke-width="1.0" stroke-linejoin="round"/>
<circle cx="329.4" cy="193.35" r="21.9" fill="none" stroke="#22101c" stroke-width="1.35"/>
<circle cx="329.4" cy="193.35" r="12.3" fill="none" stroke="#22101c" stroke-width="1.15"/>
<circle cx="329.4" cy="193.35" r="2.4" fill="#fff" stroke="#22101c" stroke-width="0.9"/>
<path d="M391.00,167.75 L391.00,155.95 A26.50,26.50 0 0 1 412.71,197.65 L403.04,190.88 A14.70,14.70 0 0 0 391.00,167.75 Z" fill="#7038a6" stroke="#22101c" stroke-width="1.0" stroke-linejoin="round"/>
<path d="M403.04,190.88 L412.71,197.65 A26.50,26.50 0 0 1 377.75,205.40 L383.65,195.18 A14.70,14.70 0 0 0 403.04,190.88 Z" fill="#b48bd6" stroke="#22101c" stroke-width="1.0" stroke-linejoin="round"/>
<path d="M383.65,195.18 L377.75,205.40 A26.50,26.50 0 0 1 364.70,185.68 L376.41,184.24 A14.70,14.70 0 0 0 383.65,195.18 Z" fill="#e3b5e2" stroke="#22101c" stroke-width="1.0" stroke-linejoin="round"/>
<path d="M376.41,184.24 L364.70,185.68 A26.50,26.50 0 0 1 364.90,177.85 L376.52,179.90 A14.70,14.70 0 0 0 376.41,184.24 Z" fill="#f0b022" stroke="#22101c" stroke-width="1.0" stroke-linejoin="round"/>
<path d="M376.52,179.90 L364.90,177.85 A26.50,26.50 0 0 1 366.10,173.39 L377.19,177.42 A14.70,14.70 0 0 0 376.52,179.90 Z" fill="#b42418" stroke="#22101c" stroke-width="1.0" stroke-linejoin="round"/>
<path d="M377.19,177.42 L366.10,173.39 A26.50,26.50 0 0 1 381.50,157.71 L385.73,168.73 A14.70,14.70 0 0 0 377.19,177.42 Z" fill="#f8e822" stroke="#22101c" stroke-width="1.0" stroke-linejoin="round"/>
<path d="M385.73,168.73 L381.50,157.71 A26.50,26.50 0 0 1 382.81,157.25 L386.46,168.47 A14.70,14.70 0 0 0 385.73,168.73 Z" fill="#2a1420" stroke="#22101c" stroke-width="1.0" stroke-linejoin="round"/>
<path d="M386.46,168.47 L382.81,157.25 A26.50,26.50 0 0 1 390.08,155.97 L390.49,167.76 A14.70,14.70 0 0 0 386.46,168.47 Z" fill="#ffffff" stroke="#22101c" stroke-width="1.0" stroke-linejoin="round"/>
<path d="M390.49,167.76 L390.08,155.97 A26.50,26.50 0 0 1 391.00,155.95 L391.00,167.75 A14.70,14.70 0 0 0 390.49,167.76 Z" fill="#2a1420" stroke="#22101c" stroke-width="1.0" stroke-linejoin="round"/>
<path d="M391.00,179.65 L391.00,167.75 A14.70,14.70 0 0 1 402.58,191.50 L393.21,184.17 A2.80,2.80 0 0 0 391.00,179.65 Z" fill="#7038a6" stroke="#22101c" stroke-width="1.0" stroke-linejoin="round"/>
<path d="M393.21,184.17 L402.58,191.50 A14.70,14.70 0 0 1 382.99,194.78 L389.48,184.80 A2.80,2.80 0 0 0 393.21,184.17 Z" fill="#b48bd6" stroke="#22101c" stroke-width="1.0" stroke-linejoin="round"/>
<path d="M389.48,184.80 L382.99,194.78 A14.70,14.70 0 0 1 376.52,185.00 L388.24,182.94 A2.80,2.80 0 0 0 389.48,184.80 Z" fill="#e3b5e2" stroke="#22101c" stroke-width="1.0" stroke-linejoin="round"/>
<path d="M388.24,182.94 L376.52,185.00 A14.70,14.70 0 0 1 376.32,181.68 L388.20,182.30 A2.80,2.80 0 0 0 388.24,182.94 Z" fill="#f0b022" stroke="#22101c" stroke-width="1.0" stroke-linejoin="round"/>
<path d="M388.20,182.30 L376.32,181.68 A14.70,14.70 0 0 1 377.02,177.91 L388.34,181.58 A2.80,2.80 0 0 0 388.20,182.30 Z" fill="#b42418" stroke="#22101c" stroke-width="1.0" stroke-linejoin="round"/>
<path d="M388.34,181.58 L377.02,177.91 A14.70,14.70 0 0 1 385.73,168.73 L390.00,179.84 A2.80,2.80 0 0 0 388.34,181.58 Z" fill="#f8e822" stroke="#22101c" stroke-width="1.0" stroke-linejoin="round"/>
<path d="M390.00,179.84 L385.73,168.73 A14.70,14.70 0 0 1 386.46,168.47 L390.13,179.79 A2.80,2.80 0 0 0 390.00,179.84 Z" fill="#2a1420" stroke="#22101c" stroke-width="1.0" stroke-linejoin="round"/>
<path d="M390.13,179.79 L386.46,168.47 A14.70,14.70 0 0 1 391.00,167.75 L391.00,179.65 A2.80,2.80 0 0 0 390.13,179.79 Z" fill="#ffffff" stroke="#22101c" stroke-width="1.0" stroke-linejoin="round"/>
<circle cx="391.0" cy="182.45" r="26.5" fill="none" stroke="#22101c" stroke-width="1.35"/>
<circle cx="391.0" cy="182.45" r="14.7" fill="none" stroke="#22101c" stroke-width="1.15"/>
<circle cx="391.0" cy="182.45" r="2.8" fill="#fff" stroke="#22101c" stroke-width="0.9"/>
<path d="M442.50,180.95 L442.50,171.35 A21.90,21.90 0 0 1 463.92,197.80 L454.53,195.81 A12.30,12.30 0 0 0 442.50,180.95 Z" fill="#7038a6" stroke="#22101c" stroke-width="1.0" stroke-linejoin="round"/>
<path d="M454.53,195.81 L463.92,197.80 A21.90,21.90 0 0 1 431.55,212.22 L436.35,203.90 A12.30,12.30 0 0 0 454.53,195.81 Z" fill="#b48bd6" stroke="#22101c" stroke-width="1.0" stroke-linejoin="round"/>
<path d="M436.35,203.90 L431.55,212.22 A21.90,21.90 0 0 1 420.76,195.92 L430.29,194.75 A12.30,12.30 0 0 0 436.35,203.90 Z" fill="#e3b5e2" stroke="#22101c" stroke-width="1.0" stroke-linejoin="round"/>
<path d="M430.29,194.75 L420.76,195.92 A21.90,21.90 0 0 1 422.34,184.69 L431.18,188.44 A12.30,12.30 0 0 0 430.29,194.75 Z" fill="#f0b022" stroke="#22101c" stroke-width="1.0" stroke-linejoin="round"/>
<path d="M431.18,188.44 L422.34,184.69 A21.90,21.90 0 0 1 432.22,173.91 L436.73,182.39 A12.30,12.30 0 0 0 431.18,188.44 Z" fill="#f8e822" stroke="#22101c" stroke-width="1.0" stroke-linejoin="round"/>
<path d="M436.73,182.39 L432.22,173.91 A21.90,21.90 0 0 1 433.24,173.40 L437.30,182.10 A12.30,12.30 0 0 0 436.73,182.39 Z" fill="#2a1420" stroke="#22101c" stroke-width="1.0" stroke-linejoin="round"/>
<path d="M437.30,182.10 L433.24,173.40 A21.90,21.90 0 0 1 442.50,171.35 L442.50,180.95 A12.30,12.30 0 0 0 437.30,182.10 Z" fill="#ffffff" stroke="#22101c" stroke-width="1.0" stroke-linejoin="round"/>
<path d="M442.50,190.85 L442.50,180.95 A12.30,12.30 0 0 1 453.65,198.45 L444.68,194.26 A2.40,2.40 0 0 0 442.50,190.85 Z" fill="#7038a6" stroke="#22101c" stroke-width="1.0" stroke-linejoin="round"/>
<path d="M444.68,194.26 L453.65,198.45 A12.30,12.30 0 0 1 440.79,205.43 L442.17,195.63 A2.40,2.40 0 0 0 444.68,194.26 Z" fill="#b48bd6" stroke="#22101c" stroke-width="1.0" stroke-linejoin="round"/>
<path d="M442.17,195.63 L440.79,205.43 A12.30,12.30 0 0 1 431.85,199.40 L440.42,194.45 A2.40,2.40 0 0 0 442.17,195.63 Z" fill="#e3b5e2" stroke="#22101c" stroke-width="1.0" stroke-linejoin="round"/>
<path d="M440.42,194.45 L431.85,199.40 A12.30,12.30 0 0 1 430.39,195.39 L440.14,193.67 A2.40,2.40 0 0 0 440.42,194.45 Z" fill="#f0b022" stroke="#22101c" stroke-width="1.0" stroke-linejoin="round"/>
<path d="M440.14,193.67 L430.39,195.39 A12.30,12.30 0 0 1 430.94,189.04 L440.24,192.43 A2.40,2.40 0 0 0 440.14,193.67 Z" fill="#b42418" stroke="#22101c" stroke-width="1.0" stroke-linejoin="round"/>
<path d="M440.24,192.43 L430.94,189.04 A12.30,12.30 0 0 1 434.59,183.83 L440.96,191.41 A2.40,2.40 0 0 0 440.24,192.43 Z" fill="#f8e822" stroke="#22101c" stroke-width="1.0" stroke-linejoin="round"/>
<path d="M440.96,191.41 L434.59,183.83 A12.30,12.30 0 0 1 435.45,183.17 L441.12,191.28 A2.40,2.40 0 0 0 440.96,191.41 Z" fill="#2a1420" stroke="#22101c" stroke-width="1.0" stroke-linejoin="round"/>
<path d="M441.12,191.28 L435.45,183.17 A12.30,12.30 0 0 1 442.50,180.95 L442.50,190.85 A2.40,2.40 0 0 0 441.12,191.28 Z" fill="#ffffff" stroke="#22101c" stroke-width="1.0" stroke-linejoin="round"/>
<circle cx="442.5" cy="193.25" r="21.9" fill="none" stroke="#22101c" stroke-width="1.35"/>
<circle cx="442.5" cy="193.25" r="12.3" fill="none" stroke="#22101c" stroke-width="1.15"/>
<circle cx="442.5" cy="193.25" r="2.4" fill="#fff" stroke="#22101c" stroke-width="0.9"/>
<rect x="40.20" y="139.40" width="4.10" height="4.70" fill="#d63a1e" stroke="#241214" stroke-width="1.15"/>
<text x="48.00" y="144.60" font-size="8.0" fill="#1c1c1c" textLength="30.20" lengthAdjust="spacingAndGlyphs" stroke="#1c1c1c" stroke-width="0.1">Promoter</text>
<rect x="88.20" y="139.40" width="4.00" height="4.70" fill="#a51c1e" stroke="#241214" stroke-width="1.15"/>
<text x="95.40" y="144.60" font-size="8.0" fill="#1c1c1c" textLength="19.20" lengthAdjust="spacingAndGlyphs" stroke="#1c1c1c" stroke-width="0.1">5UTR</text>
<rect x="123.00" y="139.40" width="4.00" height="4.70" fill="#b670bf" stroke="#241214" stroke-width="1.15"/>
<text x="130.40" y="144.60" font-size="8.0" fill="#1c1c1c" textLength="38.40" lengthAdjust="spacingAndGlyphs" stroke="#1c1c1c" stroke-width="0.1">CpG-Island</text>
<rect x="178.80" y="139.40" width="4.10" height="4.70" fill="#3b2b97" stroke="#241214" stroke-width="1.15"/>
<text x="186.70" y="144.60" font-size="8.0" fill="#1c1c1c" textLength="16.30" lengthAdjust="spacingAndGlyphs" stroke="#1c1c1c" stroke-width="0.1">LINE</text>
<rect x="211.30" y="139.40" width="4.00" height="4.70" fill="#84c3d3" stroke="#241214" stroke-width="1.15"/>
<text x="218.50" y="144.60" font-size="8.0" fill="#1c1c1c" textLength="18.20" lengthAdjust="spacingAndGlyphs" stroke="#1c1c1c" stroke-width="0.1">SINE</text>
<rect x="244.90" y="139.40" width="4.10" height="4.70" fill="#263376" stroke="#241214" stroke-width="1.15"/>
<text x="252.70" y="144.60" font-size="8.0" fill="#1c1c1c" textLength="15.80" lengthAdjust="spacingAndGlyphs" stroke="#1c1c1c" stroke-width="0.1">DNA</text>
<rect x="277.20" y="139.40" width="4.10" height="4.70" fill="#4f8a3c" stroke="#241214" stroke-width="1.15"/>
<text x="285.00" y="144.60" font-size="8.0" fill="#1c1c1c" textLength="15.80" lengthAdjust="spacingAndGlyphs" stroke="#1c1c1c" stroke-width="0.1">Exon</text>
<rect x="308.00" y="139.40" width="4.10" height="4.70" fill="#f0b31d" stroke="#241214" stroke-width="1.15"/>
<text x="316.00" y="144.60" font-size="8.0" fill="#1c1c1c" textLength="18.40" lengthAdjust="spacingAndGlyphs" stroke="#1c1c1c" stroke-width="0.1">Intron</text>
<rect x="344.30" y="139.40" width="4.00" height="4.70" fill="#f8eb22" stroke="#241214" stroke-width="1.15"/>
<text x="351.20" y="144.60" font-size="8.0" fill="#1c1c1c" textLength="32.60" lengthAdjust="spacingAndGlyphs" stroke="#1c1c1c" stroke-width="0.1">Intergenic</text>
<rect x="393.40" y="139.40" width="4.10" height="4.70" fill="#84943f" stroke="#241214" stroke-width="1.15"/>
<text x="401.00" y="144.60" font-size="8.0" fill="#1c1c1c" textLength="19.80" lengthAdjust="spacingAndGlyphs" stroke="#1c1c1c" stroke-width="0.1">3UTR</text>
<rect x="428.50" y="139.40" width="4.10" height="4.70" fill="#348648" stroke="#241214" stroke-width="1.15"/>
<text x="435.80" y="144.60" font-size="8.0" fill="#1c1c1c" textLength="14.00" lengthAdjust="spacingAndGlyphs" stroke="#1c1c1c" stroke-width="0.1">TTS</text>
<rect x="457.40" y="139.40" width="4.10" height="4.70" fill="#9b9b9b" stroke="#241214" stroke-width="1.15"/>
<text x="465.20" y="144.60" font-size="8.0" fill="#1c1c1c" textLength="12.50" lengthAdjust="spacingAndGlyphs" stroke="#1c1c1c" stroke-width="0.1">LTR</text>
<rect x="485.90" y="139.40" width="4.00" height="4.70" fill="#151010" stroke="#241214" stroke-width="1.15"/>
<text x="493.00" y="144.60" font-size="8.0" fill="#1c1c1c" textLength="18.90" lengthAdjust="spacingAndGlyphs" stroke="#1c1c1c" stroke-width="0.1">Other</text>
<rect x="77.40" y="226.00" width="4.20" height="4.30" fill="#7038a6" stroke="#241214" stroke-width="1.15"/>
<text x="85.60" y="230.80" font-size="8.0" fill="#1c1c1c" textLength="32.30" lengthAdjust="spacingAndGlyphs" stroke="#1c1c1c" stroke-width="0.1">Perm Act:</text>
<rect x="128.20" y="226.00" width="4.10" height="4.30" fill="#b48bd6" stroke="#241214" stroke-width="1.15"/>
<text x="135.80" y="230.80" font-size="8.0" fill="#1c1c1c" textLength="16.20" lengthAdjust="spacingAndGlyphs" stroke="#1c1c1c" stroke-width="0.1">Perm</text>
<rect x="160.50" y="226.00" width="4.10" height="4.30" fill="#e3b5e2" stroke="#241214" stroke-width="1.15"/>
<text x="168.00" y="230.80" font-size="8.0" fill="#1c1c1c" textLength="30.00" lengthAdjust="spacingAndGlyphs" stroke="#1c1c1c" stroke-width="0.1">Perm Wk</text>
<rect x="207.80" y="226.00" width="4.20" height="4.30" fill="#f0b022" stroke="#241214" stroke-width="1.15"/>
<text x="215.40" y="230.80" font-size="8.0" fill="#1c1c1c" textLength="26.60" lengthAdjust="spacingAndGlyphs" stroke="#1c1c1c" stroke-width="0.1">Enh Act</text>
<rect x="250.50" y="226.00" width="4.10" height="4.30" fill="#b42418" stroke="#241214" stroke-width="1.15"/>
<text x="258.00" y="230.80" font-size="8.0" fill="#1c1c1c" textLength="8.00" lengthAdjust="spacingAndGlyphs" stroke="#1c1c1c" stroke-width="0.1">Er</text>
<rect x="272.30" y="226.00" width="4.20" height="4.30" fill="#f8e822" stroke="#241214" stroke-width="1.15"/>
<text x="280.40" y="230.80" font-size="8.0" fill="#1c1c1c" textLength="26.60" lengthAdjust="spacingAndGlyphs" stroke="#1c1c1c" stroke-width="0.1">Enh Wk</text>
<rect x="315.50" y="226.00" width="4.20" height="4.30" fill="#7d8b34" stroke="#241214" stroke-width="1.15"/>
<text x="323.60" y="230.80" font-size="8.0" fill="#1c1c1c" textLength="22.40" lengthAdjust="spacingAndGlyphs" stroke="#1c1c1c" stroke-width="0.1">Tx/Enh</text>
<rect x="354.80" y="226.00" width="4.10" height="4.30" fill="#2f7b41" stroke="#241214" stroke-width="1.15"/>
<text x="362.40" y="230.80" font-size="8.0" fill="#1c1c1c" textLength="19.60" lengthAdjust="spacingAndGlyphs" stroke="#1c1c1c" stroke-width="0.1">Tx Wk</text>
<rect x="390.50" y="226.00" width="4.10" height="4.30" fill="#ffffff" stroke="#241214" stroke-width="1.15"/>
<text x="398.80" y="230.80" font-size="8.0" fill="#1c1c1c" textLength="20.10" lengthAdjust="spacingAndGlyphs" stroke="#1c1c1c" stroke-width="0.1">Quies</text>
<rect x="427.50" y="226.00" width="4.10" height="4.30" fill="#9c9c9c" stroke="#241214" stroke-width="1.15"/>
<text x="434.30" y="230.80" font-size="8.0" fill="#1c1c1c" textLength="27.30" lengthAdjust="spacingAndGlyphs" stroke="#1c1c1c" stroke-width="0.1">ReprPC</text>
<rect x="87.00" y="255.80" width="39.60" height="11.59" fill="#e9b447"/>
<rect x="126.30" y="255.80" width="58.20" height="11.59" fill="#eab74f"/>
<rect x="184.20" y="255.80" width="58.40" height="11.59" fill="#e9b344"/>
<rect x="242.30" y="255.80" width="57.40" height="11.59" fill="#ecbd5d"/>
<rect x="299.40" y="255.80" width="58.90" height="11.59" fill="#efc97b"/>
<rect x="358.00" y="255.80" width="58.30" height="11.59" fill="#f3d79c"/>
<rect x="416.00" y="255.80" width="45.10" height="11.59" fill="#f8e6c2"/>
<rect x="87.00" y="267.09" width="39.60" height="11.59" fill="#edc065"/>
<rect x="126.30" y="267.09" width="58.20" height="11.59" fill="#edc36a"/>
<rect x="184.20" y="267.09" width="58.40" height="11.59" fill="#f2d394"/>
<rect x="242.30" y="267.09" width="57.40" height="11.59" fill="#f1cf89"/>
<rect x="299.40" y="267.09" width="58.90" height="11.59" fill="#f2d496"/>
<rect x="358.00" y="267.09" width="58.30" height="11.59" fill="#f3d89f"/>
<rect x="416.00" y="267.09" width="45.10" height="11.59" fill="#f6e1b5"/>
<rect x="87.00" y="278.39" width="39.60" height="11.59" fill="#f5dcaa"/>
<rect x="126.30" y="278.39" width="58.20" height="11.59" fill="#f6e0b2"/>
<rect x="184.20" y="278.39" width="58.40" height="11.59" fill="#f5dcaa"/>
<rect x="242.30" y="278.39" width="57.40" height="11.59" fill="#f6e2b8"/>
<rect x="299.40" y="278.39" width="58.90" height="11.59" fill="#faedd3"/>
<rect x="358.00" y="278.39" width="58.30" height="11.59" fill="#fbf2de"/>
<rect x="416.00" y="278.39" width="45.10" height="11.59" fill="#fbf2de"/>
<rect x="87.00" y="289.68" width="39.60" height="11.59" fill="#f6e0b2"/>
<rect x="126.30" y="289.68" width="58.20" height="11.59" fill="#f6e0b2"/>
<rect x="184.20" y="289.68" width="58.40" height="11.59" fill="#f8e6c2"/>
<rect x="242.30" y="289.68" width="57.40" height="11.59" fill="#f8e6c2"/>
<rect x="299.40" y="289.68" width="58.90" height="11.59" fill="#f9ecd0"/>
<rect x="358.00" y="289.68" width="58.30" height="11.59" fill="#faefd8"/>
<rect x="416.00" y="289.68" width="45.10" height="11.59" fill="#faefd8"/>
<rect x="87.00" y="300.98" width="39.60" height="11.59" fill="#f9ecd0"/>
<rect x="126.30" y="300.98" width="58.20" height="11.59" fill="#f9ebce"/>
<rect x="184.20" y="300.98" width="58.40" height="11.59" fill="#f9ecd0"/>
<rect x="242.30" y="300.98" width="57.40" height="11.59" fill="#f9ebce"/>
<rect x="299.40" y="300.98" width="58.90" height="11.59" fill="#faedd3"/>
<rect x="358.00" y="300.98" width="58.30" height="11.59" fill="#fbf2de"/>
<rect x="416.00" y="300.98" width="45.10" height="11.59" fill="#fcf6e9"/>
<rect x="87.00" y="312.27" width="39.60" height="11.59" fill="#f9eacb"/>
<rect x="126.30" y="312.27" width="58.20" height="11.59" fill="#f5dfaf"/>
<rect x="184.20" y="312.27" width="58.40" height="11.59" fill="#f6e1b5"/>
<rect x="242.30" y="312.27" width="57.40" height="11.59" fill="#f8e9c8"/>
<rect x="299.40" y="312.27" width="58.90" height="11.59" fill="#faeed6"/>
<rect x="358.00" y="312.27" width="58.30" height="11.59" fill="#faeed6"/>
<rect x="416.00" y="312.27" width="45.10" height="11.59" fill="#f8e9c8"/>
<rect x="87.00" y="323.56" width="39.60" height="11.59" fill="#f4daa4"/>
<rect x="126.30" y="323.56" width="58.20" height="11.59" fill="#f3d89f"/>
<rect x="184.20" y="323.56" width="58.40" height="11.59" fill="#f1d08c"/>
<rect x="242.30" y="323.56" width="57.40" height="11.59" fill="#f2d291"/>
<rect x="299.40" y="323.56" width="58.90" height="11.59" fill="#f6e0b2"/>
<rect x="358.00" y="323.56" width="58.30" height="11.59" fill="#f6e2b8"/>
<rect x="416.00" y="323.56" width="45.10" height="11.59" fill="#f8e9c8"/>
<rect x="87.00" y="334.86" width="39.60" height="11.59" fill="#f6e0b2"/>
<rect x="126.30" y="334.86" width="58.20" height="11.59" fill="#f5dfaf"/>
<rect x="184.20" y="334.86" width="58.40" height="11.59" fill="#f3d699"/>
<rect x="242.30" y="334.86" width="57.40" height="11.59" fill="#f6e0b2"/>
<rect x="299.40" y="334.86" width="58.90" height="11.59" fill="#f7e5c0"/>
<rect x="358.00" y="334.86" width="58.30" height="11.59" fill="#f8e9c8"/>
<rect x="416.00" y="334.86" width="45.10" height="11.59" fill="#faefd8"/>
<rect x="87.00" y="346.15" width="39.60" height="11.59" fill="#eec46d"/>
<rect x="126.30" y="346.15" width="58.20" height="11.59" fill="#eec46d"/>
<rect x="184.20" y="346.15" width="58.40" height="11.59" fill="#eec46d"/>
<rect x="242.30" y="346.15" width="57.40" height="11.59" fill="#edc168"/>
<rect x="299.40" y="346.15" width="58.90" height="11.59" fill="#f0cc80"/>
<rect x="358.00" y="346.15" width="58.30" height="11.59" fill="#eec570"/>
<rect x="416.00" y="346.15" width="45.10" height="11.59" fill="#f1cf89"/>
<rect x="87.00" y="357.45" width="39.60" height="11.59" fill="#fefcf7"/>
<rect x="126.30" y="357.45" width="58.20" height="11.59" fill="#fbf3e1"/>
<rect x="184.20" y="357.45" width="58.40" height="11.59" fill="#f3d699"/>
<rect x="242.30" y="357.45" width="57.40" height="11.59" fill="#f2d394"/>
<rect x="299.40" y="357.45" width="58.90" height="11.59" fill="#f3d699"/>
<rect x="358.00" y="357.45" width="58.30" height="11.59" fill="#f1d08c"/>
<rect x="416.00" y="357.45" width="45.10" height="11.59" fill="#f4daa4"/>
<rect x="87.00" y="368.74" width="39.60" height="11.59" fill="#fbf3e1"/>
<rect x="126.30" y="368.74" width="58.20" height="11.59" fill="#f9ecd0"/>
<rect x="184.20" y="368.74" width="58.40" height="11.59" fill="#f7e4bd"/>
<rect x="242.30" y="368.74" width="57.40" height="11.59" fill="#f5dfaf"/>
<rect x="299.40" y="368.74" width="58.90" height="11.59" fill="#f6e1b5"/>
<rect x="358.00" y="368.74" width="58.30" height="11.59" fill="#f4d9a2"/>
<rect x="416.00" y="368.74" width="45.10" height="11.59" fill="#f3d89f"/>
<rect x="87.00" y="380.03" width="39.60" height="11.59" fill="#fcf6e9"/>
<rect x="126.30" y="380.03" width="58.20" height="11.59" fill="#faefd8"/>
<rect x="184.20" y="380.03" width="58.40" height="11.59" fill="#f0ca7e"/>
<rect x="242.30" y="380.03" width="57.40" height="11.59" fill="#ebbb57"/>
<rect x="299.40" y="380.03" width="58.90" height="11.59" fill="#ebbb57"/>
<rect x="358.00" y="380.03" width="58.30" height="11.59" fill="#e9b447"/>
<rect x="416.00" y="380.03" width="45.10" height="11.59" fill="#ebbb57"/>
<rect x="87.00" y="391.33" width="39.60" height="11.59" fill="#f6e0b2"/>
<rect x="126.30" y="391.33" width="58.20" height="11.59" fill="#f6e1b5"/>
<rect x="184.20" y="391.33" width="58.40" height="11.59" fill="#f0cc80"/>
<rect x="242.30" y="391.33" width="57.40" height="11.59" fill="#eec46d"/>
<rect x="299.40" y="391.33" width="58.90" height="11.59" fill="#f0ca7e"/>
<rect x="358.00" y="391.33" width="58.30" height="11.59" fill="#edc065"/>
<rect x="416.00" y="391.33" width="45.10" height="11.59" fill="#eec46d"/>
<rect x="87.00" y="402.62" width="39.60" height="11.59" fill="#fbf3e1"/>
<rect x="126.30" y="402.62" width="58.20" height="11.59" fill="#fbf0db"/>
<rect x="184.20" y="402.62" width="58.40" height="11.59" fill="#f1ce86"/>
<rect x="242.30" y="402.62" width="57.40" height="11.59" fill="#efc878"/>
<rect x="299.40" y="402.62" width="58.90" height="11.59" fill="#f2d18e"/>
<rect x="358.00" y="402.62" width="58.30" height="11.59" fill="#eab74f"/>
<rect x="416.00" y="402.62" width="45.10" height="11.59" fill="#efc878"/>
<rect x="87.00" y="413.92" width="39.60" height="11.59" fill="#fbf3e1"/>
<rect x="126.30" y="413.92" width="58.20" height="11.59" fill="#f7e3ba"/>
<rect x="184.20" y="413.92" width="58.40" height="11.59" fill="#f0cc80"/>
<rect x="242.30" y="413.92" width="57.40" height="11.59" fill="#eab952"/>
<rect x="299.40" y="413.92" width="58.90" height="11.59" fill="#e9b447"/>
<rect x="358.00" y="413.92" width="58.30" height="11.59" fill="#e7ad36"/>
<rect x="416.00" y="413.92" width="45.10" height="11.59" fill="#e6aa2e"/>
<rect x="87.00" y="425.21" width="39.60" height="11.59" fill="#f9ecd0"/>
<rect x="126.30" y="425.21" width="58.20" height="11.59" fill="#f5dfaf"/>
<rect x="184.20" y="425.21" width="58.40" height="11.59" fill="#eec46d"/>
<rect x="242.30" y="425.21" width="57.40" height="11.59" fill="#eab74f"/>
<rect x="299.40" y="425.21" width="58.90" height="11.59" fill="#eab952"/>
<rect x="358.00" y="425.21" width="58.30" height="11.59" fill="#e7ad36"/>
<rect x="416.00" y="425.21" width="45.10" height="11.59" fill="#e8b241"/>
<rect x="87.00" y="436.50" width="39.60" height="11.59" fill="#f7e3ba"/>
<rect x="126.30" y="436.50" width="58.20" height="11.59" fill="#f3d89f"/>
<rect x="184.20" y="436.50" width="58.40" height="11.59" fill="#eab952"/>
<rect x="242.30" y="436.50" width="57.40" height="11.59" fill="#ebba54"/>
<rect x="299.40" y="436.50" width="58.90" height="11.59" fill="#ecbd5d"/>
<rect x="358.00" y="436.50" width="58.30" height="11.59" fill="#e7ad36"/>
<rect x="416.00" y="436.50" width="45.10" height="11.59" fill="#e9b447"/>
<text x="60.20" y="264.10" font-size="8.4" fill="#222" text-anchor="middle" stroke="#222" stroke-width="0.1">TBX21</text>
<text x="106.65" y="264.10" font-size="7.8" fill="#2a2418" text-anchor="middle" stroke="#2a2418" stroke-width="0.1">67</text>
<text x="155.25" y="264.10" font-size="7.8" fill="#2a2418" text-anchor="middle" stroke="#2a2418" stroke-width="0.1">64</text>
<text x="213.25" y="264.10" font-size="7.8" fill="#2a2418" text-anchor="middle" stroke="#2a2418" stroke-width="0.1">68</text>
<text x="270.85" y="264.10" font-size="7.8" fill="#2a2418" text-anchor="middle" stroke="#2a2418" stroke-width="0.1">59</text>
<text x="328.70" y="264.10" font-size="7.8" fill="#2a2418" text-anchor="middle" stroke="#2a2418" stroke-width="0.1">48</text>
<text x="387.00" y="264.10" font-size="7.8" fill="#2a2418" text-anchor="middle" stroke="#2a2418" stroke-width="0.1">36</text>
<text x="438.40" y="264.10" font-size="7.8" fill="#2a2418" text-anchor="middle" stroke="#2a2418" stroke-width="0.1">22</text>
<text x="60.20" y="275.39" font-size="8.4" fill="#222" text-anchor="middle" stroke="#222" stroke-width="0.1">BATF</text>
<text x="106.65" y="275.39" font-size="7.8" fill="#2a2418" text-anchor="middle" stroke="#2a2418" stroke-width="0.1">56</text>
<text x="155.25" y="275.39" font-size="7.8" fill="#2a2418" text-anchor="middle" stroke="#2a2418" stroke-width="0.1">54</text>
<text x="213.25" y="275.39" font-size="7.8" fill="#2a2418" text-anchor="middle" stroke="#2a2418" stroke-width="0.1">39</text>
<text x="270.85" y="275.39" font-size="7.8" fill="#2a2418" text-anchor="middle" stroke="#2a2418" stroke-width="0.1">43</text>
<text x="328.70" y="275.39" font-size="7.8" fill="#2a2418" text-anchor="middle" stroke="#2a2418" stroke-width="0.1">38</text>
<text x="387.00" y="275.39" font-size="7.8" fill="#2a2418" text-anchor="middle" stroke="#2a2418" stroke-width="0.1">35</text>
<text x="438.40" y="275.39" font-size="7.8" fill="#2a2418" text-anchor="middle" stroke="#2a2418" stroke-width="0.1">27</text>
<text x="60.20" y="286.69" font-size="8.4" fill="#222" text-anchor="middle" stroke="#222" stroke-width="0.1">HDAC6</text>
<text x="106.65" y="286.69" font-size="7.8" fill="#2a2418" text-anchor="middle" stroke="#2a2418" stroke-width="0.1">31</text>
<text x="155.25" y="286.69" font-size="7.8" fill="#2a2418" text-anchor="middle" stroke="#2a2418" stroke-width="0.1">28</text>
<text x="213.25" y="286.69" font-size="7.8" fill="#2a2418" text-anchor="middle" stroke="#2a2418" stroke-width="0.1">31</text>
<text x="270.85" y="286.69" font-size="7.8" fill="#2a2418" text-anchor="middle" stroke="#2a2418" stroke-width="0.1">26</text>
<text x="328.70" y="286.69" font-size="7.8" fill="#2a2418" text-anchor="middle" stroke="#2a2418" stroke-width="0.1">16</text>
<text x="387.00" y="286.69" font-size="7.8" fill="#2a2418" text-anchor="middle" stroke="#2a2418" stroke-width="0.1">12</text>
<text x="438.40" y="286.69" font-size="7.8" fill="#2a2418" text-anchor="middle" stroke="#2a2418" stroke-width="0.1">12</text>
<text x="60.20" y="297.98" font-size="8.4" fill="#222" text-anchor="middle" stroke="#222" stroke-width="0.1">NFATC1</text>
<text x="106.65" y="297.98" font-size="7.8" fill="#2a2418" text-anchor="middle" stroke="#2a2418" stroke-width="0.1">28</text>
<text x="155.25" y="297.98" font-size="7.8" fill="#2a2418" text-anchor="middle" stroke="#2a2418" stroke-width="0.1">28</text>
<text x="213.25" y="297.98" font-size="7.8" fill="#2a2418" text-anchor="middle" stroke="#2a2418" stroke-width="0.1">22</text>
<text x="270.85" y="297.98" font-size="7.8" fill="#2a2418" text-anchor="middle" stroke="#2a2418" stroke-width="0.1">22</text>
<text x="328.70" y="297.98" font-size="7.8" fill="#2a2418" text-anchor="middle" stroke="#2a2418" stroke-width="0.1">17</text>
<text x="387.00" y="297.98" font-size="7.8" fill="#2a2418" text-anchor="middle" stroke="#2a2418" stroke-width="0.1">14</text>
<text x="438.40" y="297.98" font-size="7.8" fill="#2a2418" text-anchor="middle" stroke="#2a2418" stroke-width="0.1">14</text>
<text x="60.20" y="309.28" font-size="8.4" fill="#222" text-anchor="middle" stroke="#222" stroke-width="0.1">BACH2</text>
<text x="106.65" y="309.28" font-size="7.8" fill="#2a2418" text-anchor="middle" stroke="#2a2418" stroke-width="0.1">17</text>
<text x="155.25" y="309.28" font-size="7.8" fill="#2a2418" text-anchor="middle" stroke="#2a2418" stroke-width="0.1">18</text>
<text x="213.25" y="309.28" font-size="7.8" fill="#2a2418" text-anchor="middle" stroke="#2a2418" stroke-width="0.1">17</text>
<text x="270.85" y="309.28" font-size="7.8" fill="#2a2418" text-anchor="middle" stroke="#2a2418" stroke-width="0.1">18</text>
<text x="328.70" y="309.28" font-size="7.8" fill="#2a2418" text-anchor="middle" stroke="#2a2418" stroke-width="0.1">16</text>
<text x="387.00" y="309.28" font-size="7.8" fill="#2a2418" text-anchor="middle" stroke="#2a2418" stroke-width="0.1">12</text>
<text x="438.40" y="309.28" font-size="7.8" fill="#2a2418" text-anchor="middle" stroke="#2a2418" stroke-width="0.1">8</text>
<text x="60.20" y="320.57" font-size="8.4" fill="#222" text-anchor="middle" stroke="#222" stroke-width="0.1">NR3C1</text>
<text x="106.65" y="320.57" font-size="7.8" fill="#2a2418" text-anchor="middle" stroke="#2a2418" stroke-width="0.1">19</text>
<text x="155.25" y="320.57" font-size="7.8" fill="#2a2418" text-anchor="middle" stroke="#2a2418" stroke-width="0.1">29</text>
<text x="213.25" y="320.57" font-size="7.8" fill="#2a2418" text-anchor="middle" stroke="#2a2418" stroke-width="0.1">27</text>
<text x="270.85" y="320.57" font-size="7.8" fill="#2a2418" text-anchor="middle" stroke="#2a2418" stroke-width="0.1">20</text>
<text x="328.70" y="320.57" font-size="7.8" fill="#2a2418" text-anchor="middle" stroke="#2a2418" stroke-width="0.1">15</text>
<text x="387.00" y="320.57" font-size="7.8" fill="#2a2418" text-anchor="middle" stroke="#2a2418" stroke-width="0.1">15</text>
<text x="438.40" y="320.57" font-size="7.8" fill="#2a2418" text-anchor="middle" stroke="#2a2418" stroke-width="0.1">20</text>
<text x="60.20" y="331.86" font-size="8.4" fill="#222" text-anchor="middle" stroke="#222" stroke-width="0.1">STAT5B</text>
<text x="106.65" y="331.86" font-size="7.8" fill="#2a2418" text-anchor="middle" stroke="#2a2418" stroke-width="0.1">33</text>
<text x="155.25" y="331.86" font-size="7.8" fill="#2a2418" text-anchor="middle" stroke="#2a2418" stroke-width="0.1">35</text>
<text x="213.25" y="331.86" font-size="7.8" fill="#2a2418" text-anchor="middle" stroke="#2a2418" stroke-width="0.1">42</text>
<text x="270.85" y="331.86" font-size="7.8" fill="#2a2418" text-anchor="middle" stroke="#2a2418" stroke-width="0.1">40</text>
<text x="328.70" y="331.86" font-size="7.8" fill="#2a2418" text-anchor="middle" stroke="#2a2418" stroke-width="0.1">28</text>
<text x="387.00" y="331.86" font-size="7.8" fill="#2a2418" text-anchor="middle" stroke="#2a2418" stroke-width="0.1">26</text>
<text x="438.40" y="331.86" font-size="7.8" fill="#2a2418" text-anchor="middle" stroke="#2a2418" stroke-width="0.1">20</text>
<text x="60.20" y="343.16" font-size="8.4" fill="#222" text-anchor="middle" stroke="#222" stroke-width="0.1">RBPJ</text>
<text x="106.65" y="343.16" font-size="7.8" fill="#2a2418" text-anchor="middle" stroke="#2a2418" stroke-width="0.1">28</text>
<text x="155.25" y="343.16" font-size="7.8" fill="#2a2418" text-anchor="middle" stroke="#2a2418" stroke-width="0.1">29</text>
<text x="213.25" y="343.16" font-size="7.8" fill="#2a2418" text-anchor="middle" stroke="#2a2418" stroke-width="0.1">37</text>
<text x="270.85" y="343.16" font-size="7.8" fill="#2a2418" text-anchor="middle" stroke="#2a2418" stroke-width="0.1">28</text>
<text x="328.70" y="343.16" font-size="7.8" fill="#2a2418" text-anchor="middle" stroke="#2a2418" stroke-width="0.1">23</text>
<text x="387.00" y="343.16" font-size="7.8" fill="#2a2418" text-anchor="middle" stroke="#2a2418" stroke-width="0.1">20</text>
<text x="438.40" y="343.16" font-size="7.8" fill="#2a2418" text-anchor="middle" stroke="#2a2418" stroke-width="0.1">14</text>
<text x="60.20" y="354.45" font-size="8.4" fill="#222" text-anchor="middle" stroke="#222" stroke-width="0.1">IRF4</text>
<text x="106.65" y="354.45" font-size="7.8" fill="#2a2418" text-anchor="middle" stroke="#2a2418" stroke-width="0.1">53</text>
<text x="155.25" y="354.45" font-size="7.8" fill="#2a2418" text-anchor="middle" stroke="#2a2418" stroke-width="0.1">53</text>
<text x="213.25" y="354.45" font-size="7.8" fill="#2a2418" text-anchor="middle" stroke="#2a2418" stroke-width="0.1">53</text>
<text x="270.85" y="354.45" font-size="7.8" fill="#2a2418" text-anchor="middle" stroke="#2a2418" stroke-width="0.1">55</text>
<text x="328.70" y="354.45" font-size="7.8" fill="#2a2418" text-anchor="middle" stroke="#2a2418" stroke-width="0.1">46</text>
<text x="387.00" y="354.45" font-size="7.8" fill="#2a2418" text-anchor="middle" stroke="#2a2418" stroke-width="0.1">52</text>
<text x="438.40" y="354.45" font-size="7.8" fill="#2a2418" text-anchor="middle" stroke="#2a2418" stroke-width="0.1">43</text>
<text x="60.20" y="365.75" font-size="8.4" fill="#222" text-anchor="middle" stroke="#222" stroke-width="0.1">TP53</text>
<text x="106.65" y="365.75" font-size="7.8" fill="#2a2418" text-anchor="middle" stroke="#2a2418" stroke-width="0.1">3</text>
<text x="155.25" y="365.75" font-size="7.8" fill="#2a2418" text-anchor="middle" stroke="#2a2418" stroke-width="0.1">11</text>
<text x="213.25" y="365.75" font-size="7.8" fill="#2a2418" text-anchor="middle" stroke="#2a2418" stroke-width="0.1">37</text>
<text x="270.85" y="365.75" font-size="7.8" fill="#2a2418" text-anchor="middle" stroke="#2a2418" stroke-width="0.1">39</text>
<text x="328.70" y="365.75" font-size="7.8" fill="#2a2418" text-anchor="middle" stroke="#2a2418" stroke-width="0.1">37</text>
<text x="387.00" y="365.75" font-size="7.8" fill="#2a2418" text-anchor="middle" stroke="#2a2418" stroke-width="0.1">42</text>
<text x="438.40" y="365.75" font-size="7.8" fill="#2a2418" text-anchor="middle" stroke="#2a2418" stroke-width="0.1">33</text>
<text x="60.20" y="377.04" font-size="8.4" fill="#222" text-anchor="middle" stroke="#222" stroke-width="0.1">KLF16</text>
<text x="106.65" y="377.04" font-size="7.8" fill="#2a2418" text-anchor="middle" stroke="#2a2418" stroke-width="0.1">11</text>
<text x="155.25" y="377.04" font-size="7.8" fill="#2a2418" text-anchor="middle" stroke="#2a2418" stroke-width="0.1">17</text>
<text x="213.25" y="377.04" font-size="7.8" fill="#2a2418" text-anchor="middle" stroke="#2a2418" stroke-width="0.1">24</text>
<text x="270.85" y="377.04" font-size="7.8" fill="#2a2418" text-anchor="middle" stroke="#2a2418" stroke-width="0.1">29</text>
<text x="328.70" y="377.04" font-size="7.8" fill="#2a2418" text-anchor="middle" stroke="#2a2418" stroke-width="0.1">27</text>
<text x="387.00" y="377.04" font-size="7.8" fill="#2a2418" text-anchor="middle" stroke="#2a2418" stroke-width="0.1">34</text>
<text x="438.40" y="377.04" font-size="7.8" fill="#2a2418" text-anchor="middle" stroke="#2a2418" stroke-width="0.1">35</text>
<text x="60.20" y="388.33" font-size="8.4" fill="#222" text-anchor="middle" stroke="#222" stroke-width="0.1">KDM6B</text>
<text x="106.65" y="388.33" font-size="7.8" fill="#2a2418" text-anchor="middle" stroke="#2a2418" stroke-width="0.1">8</text>
<text x="155.25" y="388.33" font-size="7.8" fill="#2a2418" text-anchor="middle" stroke="#2a2418" stroke-width="0.1">14</text>
<text x="213.25" y="388.33" font-size="7.8" fill="#2a2418" text-anchor="middle" stroke="#2a2418" stroke-width="0.1">47</text>
<text x="270.85" y="388.33" font-size="7.8" fill="#2a2418" text-anchor="middle" stroke="#2a2418" stroke-width="0.1">61</text>
<text x="328.70" y="388.33" font-size="7.8" fill="#2a2418" text-anchor="middle" stroke="#2a2418" stroke-width="0.1">61</text>
<text x="387.00" y="388.33" font-size="7.8" fill="#2a2418" text-anchor="middle" stroke="#2a2418" stroke-width="0.1">67</text>
<text x="438.40" y="388.33" font-size="7.8" fill="#2a2418" text-anchor="middle" stroke="#2a2418" stroke-width="0.1">61</text>
<text x="60.20" y="399.63" font-size="8.4" fill="#222" text-anchor="middle" stroke="#222" stroke-width="0.1">NR4A1</text>
<text x="106.65" y="399.63" font-size="7.8" fill="#2a2418" text-anchor="middle" stroke="#2a2418" stroke-width="0.1">28</text>
<text x="155.25" y="399.63" font-size="7.8" fill="#2a2418" text-anchor="middle" stroke="#2a2418" stroke-width="0.1">27</text>
<text x="213.25" y="399.63" font-size="7.8" fill="#2a2418" text-anchor="middle" stroke="#2a2418" stroke-width="0.1">46</text>
<text x="270.85" y="399.63" font-size="7.8" fill="#2a2418" text-anchor="middle" stroke="#2a2418" stroke-width="0.1">53</text>
<text x="328.70" y="399.63" font-size="7.8" fill="#2a2418" text-anchor="middle" stroke="#2a2418" stroke-width="0.1">47</text>
<text x="387.00" y="399.63" font-size="7.8" fill="#2a2418" text-anchor="middle" stroke="#2a2418" stroke-width="0.1">56</text>
<text x="438.40" y="399.63" font-size="7.8" fill="#2a2418" text-anchor="middle" stroke="#2a2418" stroke-width="0.1">53</text>
<text x="60.20" y="410.92" font-size="8.4" fill="#222" text-anchor="middle" stroke="#222" stroke-width="0.1">JARID2</text>
<text x="106.65" y="410.92" font-size="7.8" fill="#2a2418" text-anchor="middle" stroke="#2a2418" stroke-width="0.1">11</text>
<text x="155.25" y="410.92" font-size="7.8" fill="#2a2418" text-anchor="middle" stroke="#2a2418" stroke-width="0.1">13</text>
<text x="213.25" y="410.92" font-size="7.8" fill="#2a2418" text-anchor="middle" stroke="#2a2418" stroke-width="0.1">44</text>
<text x="270.85" y="410.92" font-size="7.8" fill="#2a2418" text-anchor="middle" stroke="#2a2418" stroke-width="0.1">49</text>
<text x="328.70" y="410.92" font-size="7.8" fill="#2a2418" text-anchor="middle" stroke="#2a2418" stroke-width="0.1">41</text>
<text x="387.00" y="410.92" font-size="7.8" fill="#2a2418" text-anchor="middle" stroke="#2a2418" stroke-width="0.1">64</text>
<text x="438.40" y="410.92" font-size="7.8" fill="#2a2418" text-anchor="middle" stroke="#2a2418" stroke-width="0.1">49</text>
<text x="60.20" y="422.22" font-size="8.4" fill="#222" text-anchor="middle" stroke="#222" stroke-width="0.1">ZBTB7A</text>
<text x="106.65" y="422.22" font-size="7.8" fill="#2a2418" text-anchor="middle" stroke="#2a2418" stroke-width="0.1">11</text>
<text x="155.25" y="422.22" font-size="7.8" fill="#2a2418" text-anchor="middle" stroke="#2a2418" stroke-width="0.1">25</text>
<text x="213.25" y="422.22" font-size="7.8" fill="#2a2418" text-anchor="middle" stroke="#2a2418" stroke-width="0.1">46</text>
<text x="270.85" y="422.22" font-size="7.8" fill="#2a2418" text-anchor="middle" stroke="#2a2418" stroke-width="0.1">63</text>
<text x="328.70" y="422.22" font-size="7.8" fill="#2a2418" text-anchor="middle" stroke="#2a2418" stroke-width="0.1">67</text>
<text x="387.00" y="422.22" font-size="7.8" fill="#2a2418" text-anchor="middle" stroke="#2a2418" stroke-width="0.1">73</text>
<text x="438.40" y="422.22" font-size="7.8" fill="#2a2418" text-anchor="middle" stroke="#2a2418" stroke-width="0.1">76</text>
<text x="60.20" y="433.51" font-size="8.4" fill="#222" text-anchor="middle" stroke="#222" stroke-width="0.1">EGR1</text>
<text x="106.65" y="433.51" font-size="7.8" fill="#2a2418" text-anchor="middle" stroke="#2a2418" stroke-width="0.1">17</text>
<text x="155.25" y="433.51" font-size="7.8" fill="#2a2418" text-anchor="middle" stroke="#2a2418" stroke-width="0.1">29</text>
<text x="213.25" y="433.51" font-size="7.8" fill="#2a2418" text-anchor="middle" stroke="#2a2418" stroke-width="0.1">53</text>
<text x="270.85" y="433.51" font-size="7.8" fill="#2a2418" text-anchor="middle" stroke="#2a2418" stroke-width="0.1">64</text>
<text x="328.70" y="433.51" font-size="7.8" fill="#2a2418" text-anchor="middle" stroke="#2a2418" stroke-width="0.1">63</text>
<text x="387.00" y="433.51" font-size="7.8" fill="#2a2418" text-anchor="middle" stroke="#2a2418" stroke-width="0.1">73</text>
<text x="438.40" y="433.51" font-size="7.8" fill="#2a2418" text-anchor="middle" stroke="#2a2418" stroke-width="0.1">69</text>
<text x="60.20" y="444.80" font-size="8.4" fill="#222" text-anchor="middle" stroke="#222" stroke-width="0.1">CTCF</text>
<text x="106.65" y="444.80" font-size="7.8" fill="#2a2418" text-anchor="middle" stroke="#2a2418" stroke-width="0.1">25</text>
<text x="155.25" y="444.80" font-size="7.8" fill="#2a2418" text-anchor="middle" stroke="#2a2418" stroke-width="0.1">35</text>
<text x="213.25" y="444.80" font-size="7.8" fill="#2a2418" text-anchor="middle" stroke="#2a2418" stroke-width="0.1">63</text>
<text x="270.85" y="444.80" font-size="7.8" fill="#2a2418" text-anchor="middle" stroke="#2a2418" stroke-width="0.1">62</text>
<text x="328.70" y="444.80" font-size="7.8" fill="#2a2418" text-anchor="middle" stroke="#2a2418" stroke-width="0.1">59</text>
<text x="387.00" y="444.80" font-size="7.8" fill="#2a2418" text-anchor="middle" stroke="#2a2418" stroke-width="0.1">73</text>
<text x="438.40" y="444.80" font-size="7.8" fill="#2a2418" text-anchor="middle" stroke="#2a2418" stroke-width="0.1">67</text>
<rect x="87.00" y="456.70" width="39.60" height="11.89" fill="#c888c0"/>
<rect x="126.30" y="456.70" width="58.20" height="11.89" fill="#c888c0"/>
<rect x="184.20" y="456.70" width="58.40" height="11.89" fill="#daa7d3"/>
<rect x="242.30" y="456.70" width="57.40" height="11.89" fill="#dbabd5"/>
<rect x="299.40" y="456.70" width="58.90" height="11.89" fill="#ddaed6"/>
<rect x="87.00" y="468.29" width="39.60" height="11.89" fill="#ca8bc2"/>
<rect x="126.30" y="468.29" width="58.20" height="11.89" fill="#d59fcf"/>
<rect x="184.20" y="468.29" width="58.40" height="11.89" fill="#d59fcf"/>
<rect x="242.30" y="468.29" width="57.40" height="11.89" fill="#e9c6e3"/>
<rect x="299.40" y="468.29" width="58.90" height="11.89" fill="#edd2e6"/>
<rect x="358.00" y="468.29" width="58.30" height="11.89" fill="#fcecd8"/>
<rect x="126.30" y="479.88" width="58.20" height="11.89" fill="#d29acc"/>
<rect x="242.30" y="479.88" width="57.40" height="11.89" fill="#d59fcf"/>
<rect x="299.40" y="479.88" width="58.90" height="11.89" fill="#d8a4d2"/>
<rect x="358.00" y="479.88" width="58.30" height="11.89" fill="#daa9d4"/>
<rect x="126.30" y="491.47" width="58.20" height="11.89" fill="#d6a2d0"/>
<rect x="242.30" y="491.47" width="57.40" height="11.89" fill="#d8a4d2"/>
<rect x="358.00" y="491.47" width="58.30" height="11.89" fill="#daa7d3"/>
<rect x="87.00" y="503.06" width="39.60" height="11.89" fill="#ecd0e6"/>
<rect x="126.30" y="503.06" width="58.20" height="11.89" fill="#fdf0dd"/>
<rect x="184.20" y="503.06" width="58.40" height="11.89" fill="#d8a4d2"/>
<rect x="242.30" y="503.06" width="57.40" height="11.89" fill="#fdf3e6"/>
<rect x="126.30" y="514.65" width="58.20" height="11.89" fill="#d096c9"/>
<rect x="184.20" y="514.65" width="58.40" height="11.89" fill="#c888c0"/>
<rect x="242.30" y="514.65" width="57.40" height="11.89" fill="#d6a2d0"/>
<rect x="358.00" y="514.65" width="58.30" height="11.89" fill="#d29acc"/>
<rect x="126.30" y="526.24" width="58.20" height="11.89" fill="#e7c2e1"/>
<rect x="184.20" y="526.24" width="58.40" height="11.89" fill="#d9a6d3"/>
<rect x="242.30" y="526.24" width="57.40" height="11.89" fill="#ddaed6"/>
<rect x="299.40" y="526.24" width="58.90" height="11.89" fill="#e4bcde"/>
<rect x="358.00" y="526.24" width="58.30" height="11.89" fill="#dbabd5"/>
<rect x="87.00" y="537.83" width="39.60" height="11.89" fill="#d59ccb"/>
<rect x="126.30" y="537.83" width="58.20" height="11.89" fill="#ca8bc2"/>
<rect x="242.30" y="537.83" width="57.40" height="11.89" fill="#fbf0de"/>
<rect x="358.00" y="537.83" width="58.30" height="11.89" fill="#cd91c6"/>
<rect x="416.00" y="537.83" width="45.10" height="11.89" fill="#d096c9"/>
<rect x="126.30" y="549.42" width="58.20" height="11.89" fill="#eac8e4"/>
<rect x="242.30" y="549.42" width="57.40" height="11.89" fill="#d096c9"/>
<rect x="299.40" y="549.42" width="58.90" height="11.89" fill="#cd91c6"/>
<rect x="358.00" y="549.42" width="58.30" height="11.89" fill="#d096c9"/>
<rect x="126.30" y="561.01" width="58.20" height="11.89" fill="#d49cce"/>
<rect x="242.30" y="561.01" width="57.40" height="11.89" fill="#cd91c6"/>
<rect x="299.40" y="561.01" width="58.90" height="11.89" fill="#cb8ec4"/>
<rect x="358.00" y="561.01" width="58.30" height="11.89" fill="#cb8ec4"/>
<rect x="126.30" y="572.60" width="58.20" height="11.89" fill="#f4e0e4"/>
<rect x="242.30" y="572.60" width="57.40" height="11.89" fill="#e4bcde"/>
<rect x="299.40" y="572.60" width="58.90" height="11.89" fill="#d59fcf"/>
<rect x="358.00" y="572.60" width="58.30" height="11.89" fill="#d9a6d3"/>
<rect x="416.00" y="572.60" width="45.10" height="11.89" fill="#d49cce"/>
<rect x="126.30" y="584.19" width="58.20" height="11.89" fill="#cd91c6"/>
<rect x="242.30" y="584.19" width="57.40" height="11.89" fill="#c888c0"/>
<rect x="299.40" y="584.19" width="58.90" height="11.89" fill="#c888c0"/>
<rect x="358.00" y="584.19" width="58.30" height="11.89" fill="#c888c0"/>
<rect x="416.00" y="584.19" width="45.10" height="11.89" fill="#ca8bc2"/>
<text x="60.40" y="465.30" font-size="8.4" fill="#222" text-anchor="middle" stroke="#222" stroke-width="0.1">RUNX1</text>
<text x="106.65" y="465.30" font-size="7.6" fill="#34202e" text-anchor="middle" stroke="#34202e" stroke-width="0.1">16.7(1)</text>
<text x="155.25" y="465.30" font-size="7.6" fill="#34202e" text-anchor="middle" stroke="#34202e" stroke-width="0.1">347 (1)</text>
<text x="213.25" y="465.30" font-size="7.6" fill="#34202e" text-anchor="middle" stroke="#34202e" stroke-width="0.1">16.9 (12)</text>
<text x="270.85" y="465.30" font-size="7.6" fill="#34202e" text-anchor="middle" stroke="#34202e" stroke-width="0.1">202 (14)</text>
<text x="328.70" y="465.30" font-size="7.6" fill="#34202e" text-anchor="middle" stroke="#34202e" stroke-width="0.1">17.3 (16)</text>
<text x="387.00" y="465.30" font-size="7.6" fill="#2a2a2a" text-anchor="middle" stroke="#2a2a2a" stroke-width="0.1">ns</text>
<text x="438.40" y="465.30" font-size="7.6" fill="#2a2a2a" text-anchor="middle" stroke="#2a2a2a" stroke-width="0.1">ns</text>
<text x="60.40" y="476.89" font-size="8.4" fill="#222" text-anchor="middle" stroke="#222" stroke-width="0.1">JUN::FOS</text>
<text x="106.65" y="476.89" font-size="7.6" fill="#34202e" text-anchor="middle" stroke="#34202e" stroke-width="0.1">14.2 (2)</text>
<text x="155.25" y="476.89" font-size="7.6" fill="#34202e" text-anchor="middle" stroke="#34202e" stroke-width="0.1">135 (8)</text>
<text x="213.25" y="476.89" font-size="7.6" fill="#34202e" text-anchor="middle" stroke="#34202e" stroke-width="0.1">18.4 (8)</text>
<text x="270.85" y="476.89" font-size="7.6" fill="#34202e" text-anchor="middle" stroke="#34202e" stroke-width="0.1">116 (25)</text>
<text x="328.70" y="476.89" font-size="7.6" fill="#34202e" text-anchor="middle" stroke="#34202e" stroke-width="0.1">7.46 (30)</text>
<text x="387.00" y="476.89" font-size="7.6" fill="#34202e" text-anchor="middle" stroke="#34202e" stroke-width="0.1">17.7 (62)</text>
<text x="438.40" y="476.89" font-size="7.6" fill="#2a2a2a" text-anchor="middle" stroke="#2a2a2a" stroke-width="0.1">ns</text>
<text x="60.40" y="488.48" font-size="8.4" fill="#222" text-anchor="middle" stroke="#222" stroke-width="0.1">NFATC2</text>
<text x="106.65" y="488.48" font-size="7.6" fill="#2a2a2a" text-anchor="middle" stroke="#2a2a2a" stroke-width="0.1">ns</text>
<text x="155.25" y="488.48" font-size="7.6" fill="#34202e" text-anchor="middle" stroke="#34202e" stroke-width="0.1">142 (6)</text>
<text x="213.25" y="488.48" font-size="7.6" fill="#2a2a2a" text-anchor="middle" stroke="#2a2a2a" stroke-width="0.1">ns</text>
<text x="270.85" y="488.48" font-size="7.6" fill="#34202e" text-anchor="middle" stroke="#34202e" stroke-width="0.1">243 (8)</text>
<text x="328.70" y="488.48" font-size="7.6" fill="#34202e" text-anchor="middle" stroke="#34202e" stroke-width="0.1">31.4 (10)</text>
<text x="387.00" y="488.48" font-size="7.6" fill="#34202e" text-anchor="middle" stroke="#34202e" stroke-width="0.1">95.5 (13)</text>
<text x="438.40" y="488.48" font-size="7.6" fill="#2a2a2a" text-anchor="middle" stroke="#2a2a2a" stroke-width="0.1">ns</text>
<text x="60.40" y="500.07" font-size="8.4" fill="#222" text-anchor="middle" stroke="#222" stroke-width="0.1">FOXP1</text>
<text x="106.65" y="500.07" font-size="7.6" fill="#2a2a2a" text-anchor="middle" stroke="#2a2a2a" stroke-width="0.1">ns</text>
<text x="155.25" y="500.07" font-size="7.6" fill="#34202e" text-anchor="middle" stroke="#34202e" stroke-width="0.1">129 (9)</text>
<text x="213.25" y="500.07" font-size="7.6" fill="#2a2a2a" text-anchor="middle" stroke="#2a2a2a" stroke-width="0.1">ns</text>
<text x="270.85" y="500.07" font-size="7.6" fill="#34202e" text-anchor="middle" stroke="#34202e" stroke-width="0.1">215 (10)</text>
<text x="328.70" y="500.07" font-size="7.6" fill="#2a2a2a" text-anchor="middle" stroke="#2a2a2a" stroke-width="0.1">ns</text>
<text x="387.00" y="500.07" font-size="7.6" fill="#34202e" text-anchor="middle" stroke="#34202e" stroke-width="0.1">96.1 (12)</text>
<text x="438.40" y="500.07" font-size="7.6" fill="#2a2a2a" text-anchor="middle" stroke="#2a2a2a" stroke-width="0.1">ns</text>
<text x="60.40" y="511.66" font-size="8.4" fill="#222" text-anchor="middle" stroke="#222" stroke-width="0.1">TBX21</text>
<text x="106.65" y="511.66" font-size="7.6" fill="#34202e" text-anchor="middle" stroke="#34202e" stroke-width="0.1">1.82 (29)</text>
<text x="155.25" y="511.66" font-size="7.6" fill="#34202e" text-anchor="middle" stroke="#34202e" stroke-width="0.1">19.8 (71)</text>
<text x="213.25" y="511.66" font-size="7.6" fill="#34202e" text-anchor="middle" stroke="#34202e" stroke-width="0.1">18.4 (10)</text>
<text x="270.85" y="511.66" font-size="7.6" fill="#34202e" text-anchor="middle" stroke="#34202e" stroke-width="0.1">28.2 (90)</text>
<text x="328.70" y="511.66" font-size="7.6" fill="#2a2a2a" text-anchor="middle" stroke="#2a2a2a" stroke-width="0.1">ns</text>
<text x="387.00" y="511.66" font-size="7.6" fill="#2a2a2a" text-anchor="middle" stroke="#2a2a2a" stroke-width="0.1">ns</text>
<text x="438.40" y="511.66" font-size="7.6" fill="#2a2a2a" text-anchor="middle" stroke="#2a2a2a" stroke-width="0.1">ns</text>
<text x="60.40" y="523.25" font-size="8.4" fill="#222" text-anchor="middle" stroke="#222" stroke-width="0.1">IRF1</text>
<text x="106.65" y="523.25" font-size="7.6" fill="#2a2a2a" text-anchor="middle" stroke="#2a2a2a" stroke-width="0.1">ns</text>
<text x="155.25" y="523.25" font-size="7.6" fill="#34202e" text-anchor="middle" stroke="#34202e" stroke-width="0.1">144 (5)</text>
<text x="213.25" y="523.25" font-size="7.6" fill="#34202e" text-anchor="middle" stroke="#34202e" stroke-width="0.1">20.4 (1)</text>
<text x="270.85" y="523.25" font-size="7.6" fill="#34202e" text-anchor="middle" stroke="#34202e" stroke-width="0.1">242 (9)</text>
<text x="328.70" y="523.25" font-size="7.6" fill="#2a2a2a" text-anchor="middle" stroke="#2a2a2a" stroke-width="0.1">ns</text>
<text x="387.00" y="523.25" font-size="7.6" fill="#34202e" text-anchor="middle" stroke="#34202e" stroke-width="0.1">125 (6)</text>
<text x="438.40" y="523.25" font-size="7.6" fill="#2a2a2a" text-anchor="middle" stroke="#2a2a2a" stroke-width="0.1">ns</text>
<text x="60.40" y="534.84" font-size="8.4" fill="#222" text-anchor="middle" stroke="#222" stroke-width="0.1">STAT2:STAT1</text>
<text x="106.65" y="534.84" font-size="7.6" fill="#2a2a2a" text-anchor="middle" stroke="#2a2a2a" stroke-width="0.1">ns</text>
<text x="155.25" y="534.84" font-size="7.6" fill="#34202e" text-anchor="middle" stroke="#34202e" stroke-width="0.1">80.6 (23)</text>
<text x="213.25" y="534.84" font-size="7.6" fill="#34202e" text-anchor="middle" stroke="#34202e" stroke-width="0.1">17.8 (11)</text>
<text x="270.85" y="534.84" font-size="7.6" fill="#34202e" text-anchor="middle" stroke="#34202e" stroke-width="0.1">173 (16)</text>
<text x="328.70" y="534.84" font-size="7.6" fill="#34202e" text-anchor="middle" stroke="#34202e" stroke-width="0.1">11.3 (20)</text>
<text x="387.00" y="534.84" font-size="7.6" fill="#34202e" text-anchor="middle" stroke="#34202e" stroke-width="0.1">94.5 (14)</text>
<text x="438.40" y="534.84" font-size="7.6" fill="#2a2a2a" text-anchor="middle" stroke="#2a2a2a" stroke-width="0.1">ns</text>
<text x="60.40" y="546.43" font-size="8.4" fill="#222" text-anchor="middle" stroke="#222" stroke-width="0.1">CTCF</text>
<text x="106.65" y="546.43" font-size="7.6" fill="#34202e" text-anchor="middle" stroke="#34202e" stroke-width="0.1">5.04 (17)</text>
<text x="155.25" y="546.43" font-size="7.6" fill="#34202e" text-anchor="middle" stroke="#34202e" stroke-width="0.1">153 (2)</text>
<text x="213.25" y="546.43" font-size="7.6" fill="#2a2a2a" text-anchor="middle" stroke="#2a2a2a" stroke-width="0.1">ns</text>
<text x="270.85" y="546.43" font-size="7.6" fill="#34202e" text-anchor="middle" stroke="#34202e" stroke-width="0.1">49.2 (50)</text>
<text x="328.70" y="546.43" font-size="7.6" fill="#2a2a2a" text-anchor="middle" stroke="#2a2a2a" stroke-width="0.1">ns</text>
<text x="387.00" y="546.43" font-size="7.6" fill="#34202e" text-anchor="middle" stroke="#34202e" stroke-width="0.1">164 (4)</text>
<text x="438.40" y="546.43" font-size="7.6" fill="#34202e" text-anchor="middle" stroke="#34202e" stroke-width="0.1">17.6 (5)</text>
<text x="60.40" y="558.02" font-size="8.4" fill="#222" text-anchor="middle" stroke="#222" stroke-width="0.1">EGR1</text>
<text x="106.65" y="558.02" font-size="7.6" fill="#2a2a2a" text-anchor="middle" stroke="#2a2a2a" stroke-width="0.1">ns</text>
<text x="155.25" y="558.02" font-size="7.6" fill="#34202e" text-anchor="middle" stroke="#34202e" stroke-width="0.1">61.6 (26)</text>
<text x="213.25" y="558.02" font-size="7.6" fill="#2a2a2a" text-anchor="middle" stroke="#2a2a2a" stroke-width="0.1">ns</text>
<text x="270.85" y="558.02" font-size="7.6" fill="#34202e" text-anchor="middle" stroke="#34202e" stroke-width="0.1">344 (5)</text>
<text x="328.70" y="558.02" font-size="7.6" fill="#34202e" text-anchor="middle" stroke="#34202e" stroke-width="0.1">51.8 (4)</text>
<text x="387.00" y="558.02" font-size="7.6" fill="#34202e" text-anchor="middle" stroke="#34202e" stroke-width="0.1">164 (5)</text>
<text x="438.40" y="558.02" font-size="7.6" fill="#2a2a2a" text-anchor="middle" stroke="#2a2a2a" stroke-width="0.1">ns</text>
<text x="60.40" y="569.61" font-size="8.4" fill="#222" text-anchor="middle" stroke="#222" stroke-width="0.1">KLF5</text>
<text x="106.65" y="569.61" font-size="7.6" fill="#2a2a2a" text-anchor="middle" stroke="#2a2a2a" stroke-width="0.1">ns</text>
<text x="155.25" y="569.61" font-size="7.6" fill="#34202e" text-anchor="middle" stroke="#34202e" stroke-width="0.1">139 (7)</text>
<text x="213.25" y="569.61" font-size="7.6" fill="#2a2a2a" text-anchor="middle" stroke="#2a2a2a" stroke-width="0.1">ns</text>
<text x="270.85" y="569.61" font-size="7.6" fill="#34202e" text-anchor="middle" stroke="#34202e" stroke-width="0.1">500 (4)</text>
<text x="328.70" y="569.61" font-size="7.6" fill="#34202e" text-anchor="middle" stroke="#34202e" stroke-width="0.1">79.2 (3)</text>
<text x="387.00" y="569.61" font-size="7.6" fill="#34202e" text-anchor="middle" stroke="#34202e" stroke-width="0.1">232 (3)</text>
<text x="438.40" y="569.61" font-size="7.6" fill="#2a2a2a" text-anchor="middle" stroke="#2a2a2a" stroke-width="0.1">ns</text>
<text x="60.40" y="581.20" font-size="8.4" fill="#222" text-anchor="middle" stroke="#222" stroke-width="0.1">KLF16</text>
<text x="106.65" y="581.20" font-size="7.6" fill="#2a2a2a" text-anchor="middle" stroke="#2a2a2a" stroke-width="0.1">ns</text>
<text x="155.25" y="581.20" font-size="7.6" fill="#34202e" text-anchor="middle" stroke="#34202e" stroke-width="0.1">43.8 (39)</text>
<text x="213.25" y="581.20" font-size="7.6" fill="#2a2a2a" text-anchor="middle" stroke="#2a2a2a" stroke-width="0.1">ns</text>
<text x="270.85" y="581.20" font-size="7.6" fill="#34202e" text-anchor="middle" stroke="#34202e" stroke-width="0.1">138 (20)</text>
<text x="328.70" y="581.20" font-size="7.6" fill="#34202e" text-anchor="middle" stroke="#34202e" stroke-width="0.1">36.3 (8)</text>
<text x="387.00" y="581.20" font-size="7.6" fill="#34202e" text-anchor="middle" stroke="#34202e" stroke-width="0.1">96.2 (11)</text>
<text x="438.40" y="581.20" font-size="7.6" fill="#34202e" text-anchor="middle" stroke="#34202e" stroke-width="0.1">11.5 (7)</text>
<text x="60.40" y="592.79" font-size="8.4" fill="#222" text-anchor="middle" stroke="#222" stroke-width="0.1">SP1</text>
<text x="106.65" y="592.79" font-size="7.6" fill="#2a2a2a" text-anchor="middle" stroke="#2a2a2a" stroke-width="0.1">ns</text>
<text x="155.25" y="592.79" font-size="7.6" fill="#34202e" text-anchor="middle" stroke="#34202e" stroke-width="0.1">146 (4)</text>
<text x="213.25" y="592.79" font-size="7.6" fill="#2a2a2a" text-anchor="middle" stroke="#2a2a2a" stroke-width="0.1">ns</text>
<text x="270.85" y="592.79" font-size="7.6" fill="#34202e" text-anchor="middle" stroke="#34202e" stroke-width="0.1">698 (1)</text>
<text x="328.70" y="592.79" font-size="7.6" fill="#34202e" text-anchor="middle" stroke="#34202e" stroke-width="0.1">93.8 (1)</text>
<text x="387.00" y="592.79" font-size="7.6" fill="#34202e" text-anchor="middle" stroke="#34202e" stroke-width="0.1">340 (1)</text>
<text x="438.40" y="592.79" font-size="7.6" fill="#34202e" text-anchor="middle" stroke="#34202e" stroke-width="0.1">39.2 (2)</text>
<g transform="translate(22.5,351.6) rotate(-90)"><text x="0.00" y="2.80" font-size="8.4" fill="#2a2a2a" text-anchor="middle" stroke="#2a2a2a" stroke-width="0.1">Proportion of regions with</text></g>
<g transform="translate(32.4,350.3) rotate(-90)"><text x="0.00" y="2.80" font-size="8.4" fill="#2a2a2a" text-anchor="middle" stroke="#2a2a2a" stroke-width="0.1">factor (%)</text></g>
<g transform="translate(22.4,526.4) rotate(-90)"><text x="0.00" y="2.80" font-size="8.45" fill="#2a2a2a" text-anchor="middle" stroke="#2a2a2a" stroke-width="0.1">Motifs (Score (Rank))</text></g>
<line x1="184.2" y1="24.0" x2="184.2" y2="136.0" stroke="#262220" stroke-width="1.4"/>
<line x1="184.2" y1="147.3" x2="184.2" y2="222.8" stroke="#262220" stroke-width="1.4"/>
<line x1="184.2" y1="233.4" x2="184.2" y2="595.8" stroke="#262220" stroke-width="1.4"/>
<line x1="358.2" y1="24.0" x2="358.2" y2="136.3" stroke="#262220" stroke-width="1.4"/>
<line x1="358.2" y1="147.5" x2="358.2" y2="222.8" stroke="#262220" stroke-width="1.4"/>
<line x1="358.2" y1="233.4" x2="358.2" y2="595.8" stroke="#262220" stroke-width="1.4"/>
<g shape-rendering="crispEdges"><rect x="0" y="2" width="520" height="1" fill="#dadada"/><rect x="0" y="600" width="520" height="1" fill="#dedede"/><rect x="2" y="0" width="1" height="603" fill="#f2f2f2"/><rect x="517" y="0" width="1" height="603" fill="#f4f4f4"/><rect x="1" y="0" width="1" height="603" fill="#828282"/><rect x="518" y="0" width="1" height="603" fill="#727272"/><rect x="0" y="1" width="520" height="1" fill="#666666"/><rect x="0" y="601" width="520" height="1" fill="#5a5a5a"/><rect x="0" y="0" width="1" height="603" fill="#000"/><rect x="519" y="0" width="1" height="603" fill="#000"/><rect x="0" y="0" width="520" height="1" fill="#000"/><rect x="0" y="602" width="520" height="1" fill="#000"/></g>
</svg>
</body></html>
